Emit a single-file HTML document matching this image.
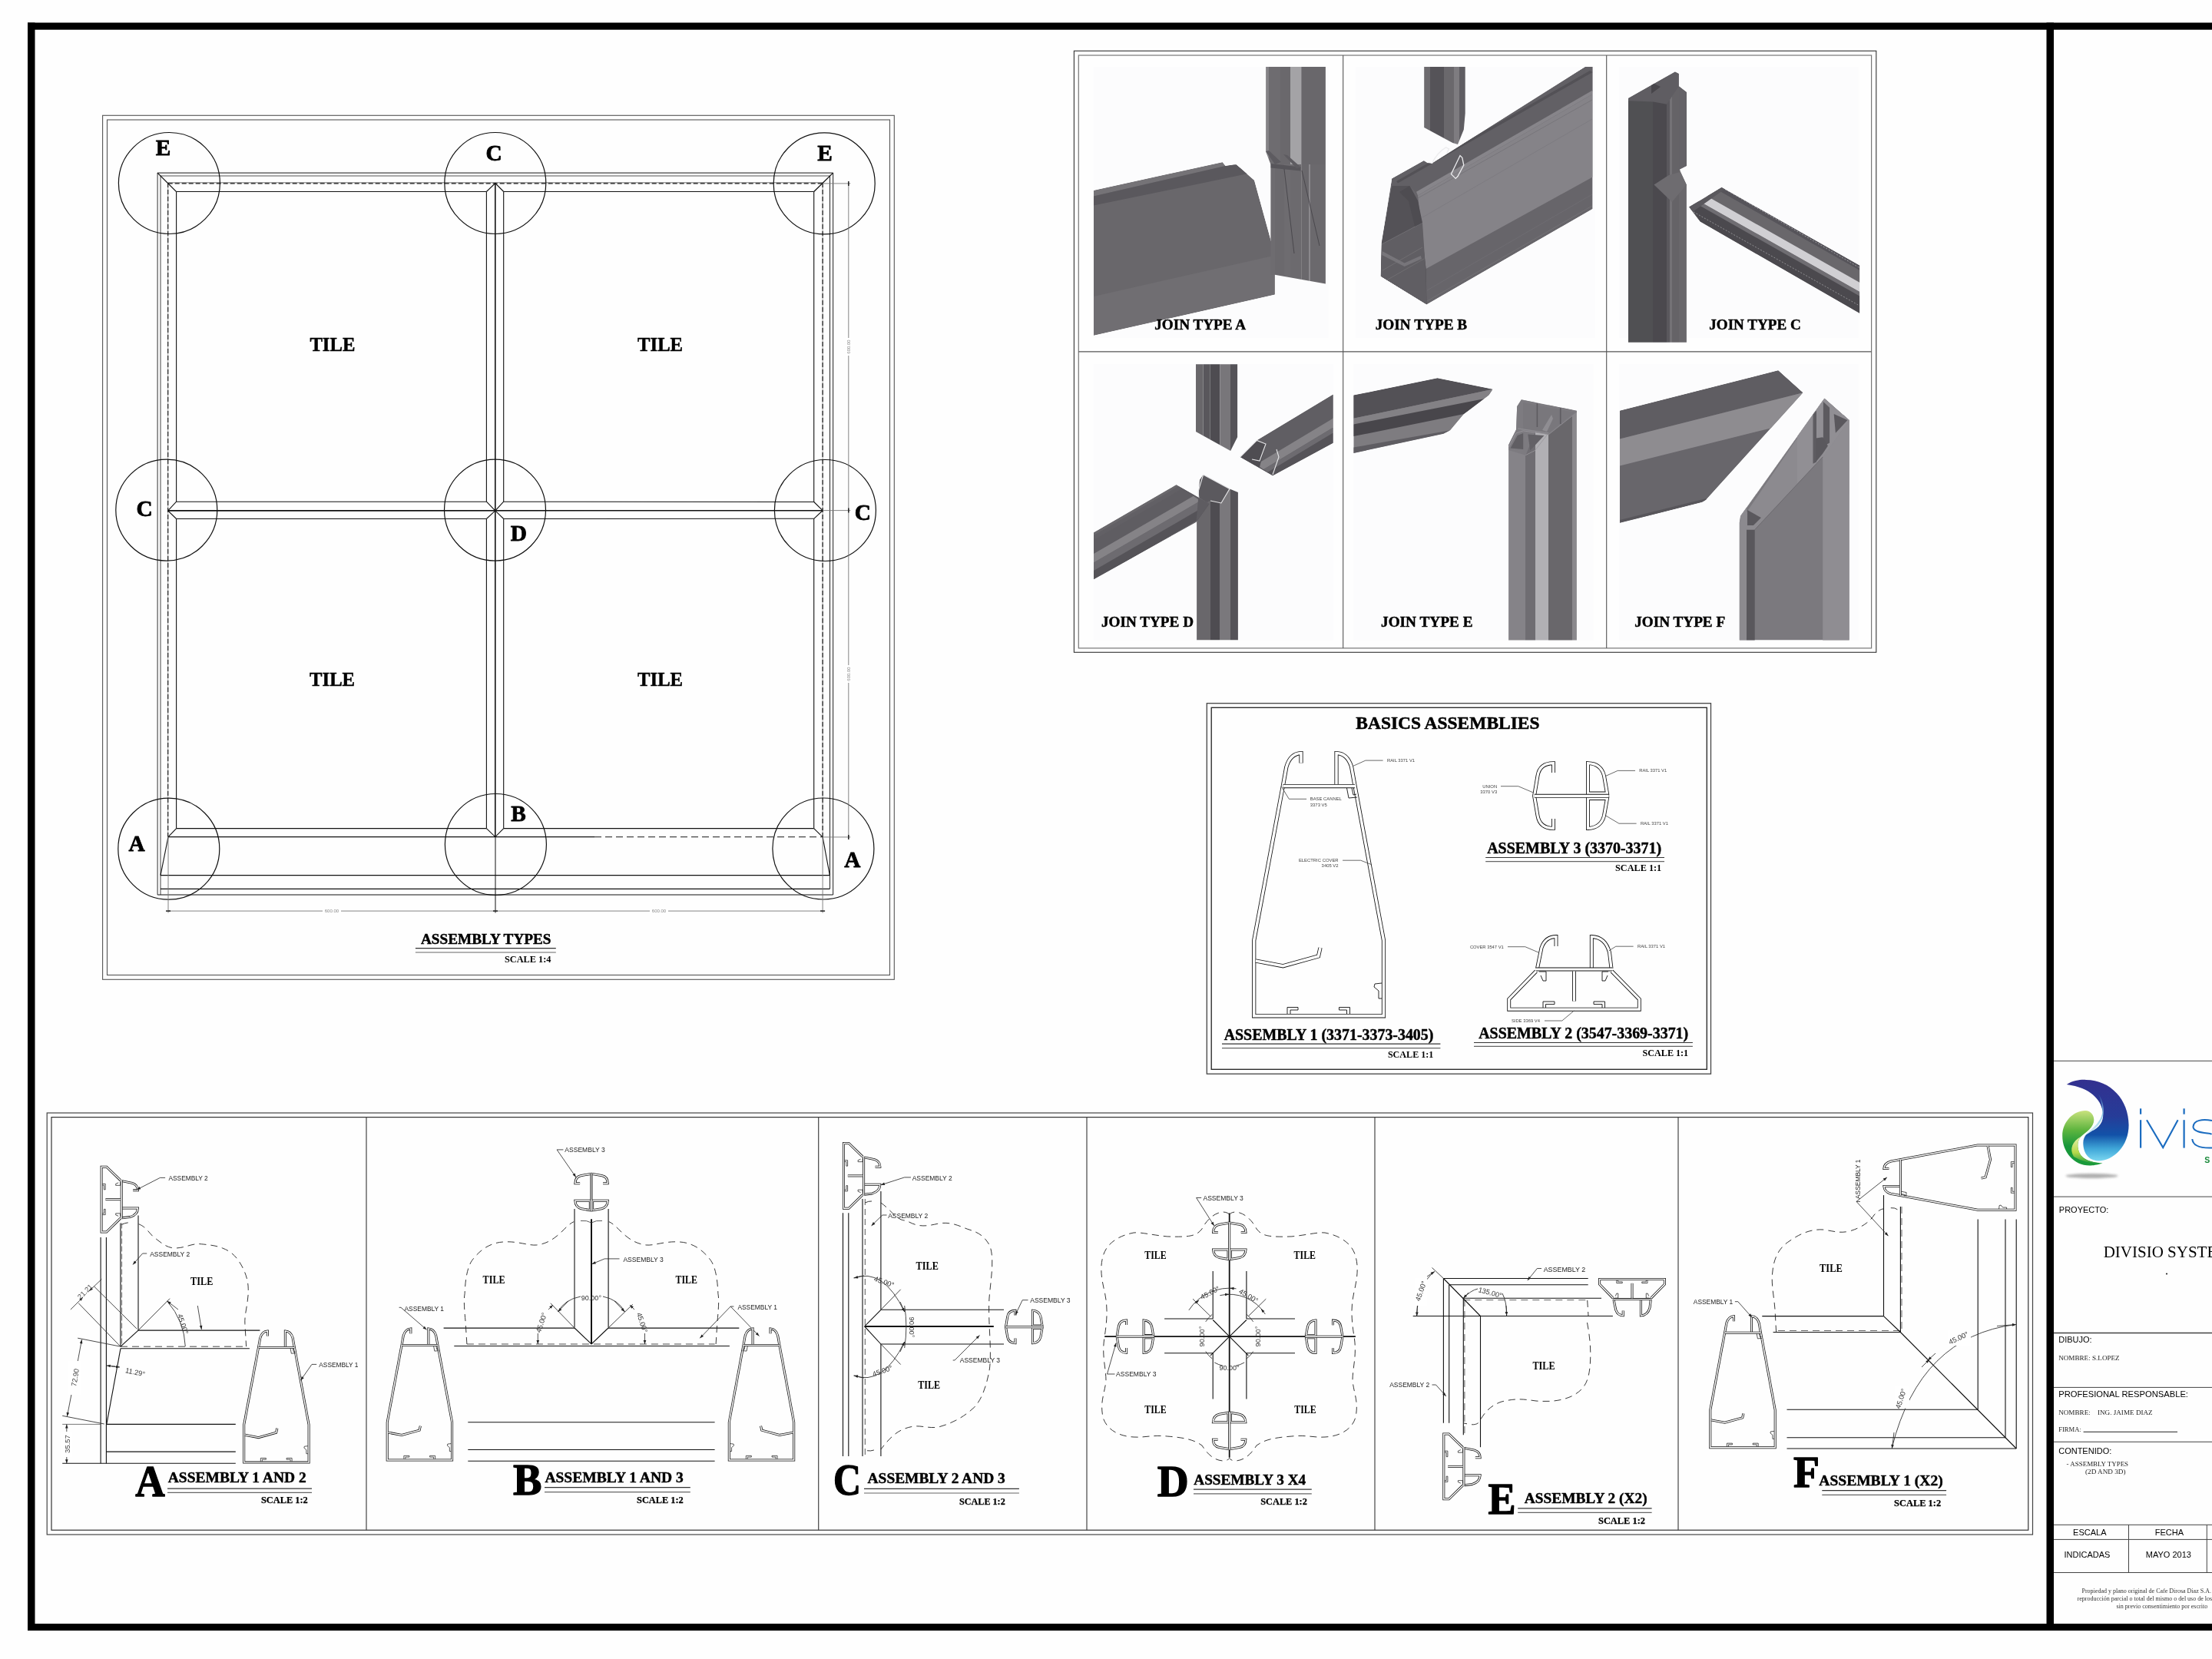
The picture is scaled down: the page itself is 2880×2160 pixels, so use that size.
<!DOCTYPE html>
<html><head><meta charset="utf-8"><title>Divisio System - Assembly Types</title>
<style>html,body{margin:0;padding:0;background:#fff;width:2880px;height:2160px;overflow:hidden}
svg{display:block;will-change:transform}</style></head>
<body><svg width="2880" height="2160" viewBox="0 0 2880 2160" shape-rendering="geometricPrecision">
<defs><linearGradient id="gBlue" x1="0" y1="0" x2="0" y2="1">
<stop offset="0" stop-color="#33308f"/><stop offset="0.45" stop-color="#263c98"/><stop offset="0.68" stop-color="#1252a8"/><stop offset="0.85" stop-color="#3fa6d8"/><stop offset="1" stop-color="#7ad6f0"/></linearGradient>
<linearGradient id="gHi" x1="0" y1="0" x2="0" y2="1"><stop offset="0" stop-color="#2a4aa0"/><stop offset="0.5" stop-color="#8fcbe8"/><stop offset="1" stop-color="#dff3fa"/></linearGradient>
<linearGradient id="gGreen" x1="0" y1="0" x2="0" y2="1"><stop offset="0" stop-color="#c9e27e"/><stop offset="0.35" stop-color="#5fb53f"/><stop offset="0.65" stop-color="#17973a"/><stop offset="1" stop-color="#1a9a3a"/></linearGradient>
<linearGradient id="gLime" x1="0" y1="0" x2="0" y2="1"><stop offset="0" stop-color="#e6f0b0"/><stop offset="0.6" stop-color="#b6d94a"/><stop offset="1" stop-color="#2aa040"/></linearGradient>
<filter id="fBlur" x="-20%" y="-100%" width="140%" height="300%"><feGaussianBlur stdDeviation="1.6"/></filter><clipPath id="cj1"><polygon points="1423.9,248 1591.6,211.2 1595.5,215.9 1606.5,214.3 1609.6,214.3 1633.1,234.7 1653.5,309.1 1659.8,331.8 1659.8,383.5 1423.9,436.8"/></clipPath><clipPath id="cj2"><polygon points="1648.1,86.9 1725.9,86.9 1725.9,369.5 1659.9,357.7 1654.4,357.7 1654.4,213.9 1648.1,197.6"/></clipPath><clipPath id="cj3"><polygon points="1854.2,87.1 1907.7,87.1 1907.7,147.5 1905.8,168.7 1898,188 1891.3,186.1 1854.2,165.9"/></clipPath><clipPath id="cj4"><polygon points="1797.7,359.8 1798.7,316.3 1812.2,232.4 1853.7,209.3 1858.5,212.2 1864.3,213.1 2064,87.1 2073.6,87.1 2073.6,272 1857.5,396.4"/></clipPath><clipPath id="cj5"><polygon points="2120,128 2180.9,93.4 2185.8,96.1 2185.8,112.3 2195.9,120.1 2195.9,216 2187,220.5 2188,223.8 2195.9,240.6 2195.9,445.7 2120,445.7"/></clipPath><clipPath id="cj6"><polygon points="2199.2,269.6 2241.6,243.9 2421.1,345.4 2421.1,407.8 2213.7,288.5"/></clipPath><clipPath id="cj7"><polygon points="1557,474.2 1611.3,474.2 1611.3,568.8 1602.1,587.1 1557,561.9"/></clipPath><clipPath id="cj8"><polygon points="1566.6,618 1601,636.4 1611.9,641 1611.9,833.3 1558.1,833.3 1558.1,680 1562,625"/></clipPath><clipPath id="cj9"><polygon points="1424,693.6 1531.5,631.3 1574.6,655.8 1557.4,679.9 1424,754.3"/></clipPath><clipPath id="cj10"><polygon points="1614.7,595.1 1636.4,573.4 1735.6,513.8 1735.6,576.8 1657.1,619.2"/></clipPath><clipPath id="cj11"><polygon points="1762.3,514.6 1871.5,492.3 1943.6,506.8 1938.4,514.6 1906.1,539.1 1888.3,560.3 1879.3,564.8 1762.3,590"/></clipPath><clipPath id="cj12"><polygon points="1964.1,586 1964.1,579.3 1974.1,559.2 1975.2,529.1 1980.8,520.2 2052.9,534.7 2052.9,833.5 1964.1,833.5"/></clipPath><clipPath id="cj13"><polygon points="2108.9,534.7 2315.2,482.3 2347.5,511.3 2221.5,650.6 2216,654 2108.9,680.7"/></clipPath><clipPath id="cj14"><polygon points="2264.6,680.7 2266.1,671.8 2375.4,518.6 2407.8,546.9 2407.8,833.5 2264.6,833.5"/></clipPath></defs>
<rect x="0" y="0" width="2880" height="2160" fill="#fefefe"/>
<rect x="36" y="29.5" width="2844" height="9.2" fill="#000"/>
<rect x="36" y="2114" width="2844" height="9" fill="#000"/>
<rect x="36" y="29.5" width="9.5" height="2093.5" fill="#000"/>
<rect x="2664.5" y="29.5" width="9.5" height="2093.5" fill="#000"/>
<line x1="2674" y1="1381.3" x2="2880" y2="1381.3" stroke="#444" stroke-width="1"/>
<line x1="2674" y1="1558.1" x2="2880" y2="1558.1" stroke="#444" stroke-width="1"/>
<line x1="2674" y1="1735.5" x2="2880" y2="1735.5" stroke="#444" stroke-width="1.6"/>
<line x1="2674" y1="1806.4" x2="2880" y2="1806.4" stroke="#444" stroke-width="1"/>
<line x1="2674" y1="1877.3" x2="2880" y2="1877.3" stroke="#444" stroke-width="1"/>
<line x1="2674" y1="1985.3" x2="2880" y2="1985.3" stroke="#444" stroke-width="1"/>
<line x1="2674" y1="2004.4" x2="2880" y2="2004.4" stroke="#444" stroke-width="1"/>
<line x1="2674" y1="2047.5" x2="2880" y2="2047.5" stroke="#444" stroke-width="1"/>
<line x1="2771.5" y1="1985.3" x2="2771.5" y2="2047.5" stroke="#444" stroke-width="1"/>
<line x1="2873.3" y1="1985.3" x2="2873.3" y2="2047.5" stroke="#444" stroke-width="1"/>
<text x="2680.8" y="1578.7" font-family="'Liberation Sans', sans-serif" font-size="11" font-weight="normal" text-anchor="start" fill="#000">PROYECTO:</text>
<text x="2738.7" y="1636.7" font-family="'Liberation Serif', serif" font-size="21" font-weight="normal" text-anchor="start" fill="#000">DIVISIO SYSTEMS</text>
<circle cx="2821" cy="1658.5" r="1.1" fill="#222" stroke="none" stroke-width="0"/>
<text x="2680.2" y="1747.8" font-family="'Liberation Sans', sans-serif" font-size="11" font-weight="normal" text-anchor="start" fill="#000">DIBUJO:</text>
<text x="2680.2" y="1770.6" font-family="'Liberation Serif', serif" font-size="8.6" font-weight="normal" text-anchor="start" fill="#222" textLength="79.5" lengthAdjust="spacingAndGlyphs">NOMBRE: S.LOPEZ</text>
<text x="2680.2" y="1818.7" font-family="'Liberation Sans', sans-serif" font-size="11" font-weight="normal" text-anchor="start" fill="#000" textLength="168.8" lengthAdjust="spacingAndGlyphs">PROFESIONAL RESPONSABLE:</text>
<text x="2680.2" y="1841.9" font-family="'Liberation Serif', serif" font-size="8.6" font-weight="normal" text-anchor="start" fill="#222" textLength="122.5" lengthAdjust="spacingAndGlyphs">NOMBRE: &#160;&#160;&#160;ING. JAIME DIAZ</text>
<text x="2680.2" y="1863.8" font-family="'Liberation Serif', serif" font-size="8.6" font-weight="normal" text-anchor="start" fill="#222">FIRMA:</text>
<line x1="2712.6" y1="1864.3" x2="2835" y2="1864.3" stroke="#222" stroke-width="1"/>
<text x="2680.2" y="1892.5" font-family="'Liberation Sans', sans-serif" font-size="11" font-weight="normal" text-anchor="start" fill="#000">CONTENIDO:</text>
<text x="2690.6" y="1908.7" font-family="'Liberation Serif', serif" font-size="8" font-weight="normal" text-anchor="start" fill="#222" textLength="80.5" lengthAdjust="spacingAndGlyphs">- ASSEMBLY TYPES</text>
<text x="2715" y="1919.2" font-family="'Liberation Serif', serif" font-size="8" font-weight="normal" text-anchor="start" fill="#222" textLength="52.5" lengthAdjust="spacingAndGlyphs">(2D AND 3D)</text>
<text x="2720.8" y="1999" font-family="'Liberation Sans', sans-serif" font-size="11" font-weight="normal" text-anchor="middle" fill="#000">ESCALA</text>
<text x="2824.4" y="1999" font-family="'Liberation Sans', sans-serif" font-size="11" font-weight="normal" text-anchor="middle" fill="#000">FECHA</text>
<text x="2717.5" y="2027.7" font-family="'Liberation Sans', sans-serif" font-size="11" font-weight="normal" text-anchor="middle" fill="#000">INDICADAS</text>
<text x="2823.4" y="2027.7" font-family="'Liberation Sans', sans-serif" font-size="11" font-weight="normal" text-anchor="middle" fill="#000">MAYO 2013</text>
<text x="2710.5" y="2074.4" font-family="'Liberation Serif', serif" font-size="8" font-weight="normal" text-anchor="start" fill="#333">Propiedad y plano original de Cafe Dirosa Diaz S.A. Queda prohibida la</text>
<text x="2704.6" y="2084.2" font-family="'Liberation Serif', serif" font-size="8" font-weight="normal" text-anchor="start" fill="#333">reproducci&#243;n parcial o total del mismo  o del uso de los datos</text>
<text x="2755.5" y="2093.9" font-family="'Liberation Serif', serif" font-size="8" font-weight="normal" text-anchor="start" fill="#333">sin previo consentimiento por escrito</text>
<ellipse cx="2723.5" cy="1531" rx="34" ry="3" fill="#9a9a9a" filter="url(#fBlur)" opacity="0.8"/>
<path d="M2690.8,1412 C2700,1406 2710,1405.5 2716,1405.9 C2748,1406 2771.6,1432 2771.6,1464.7 C2771.6,1492 2752,1511.4 2731.9,1511.4 C2720,1511.4 2712.3,1502 2712.3,1488.1 C2712.3,1478 2720,1473 2726.3,1471.3 C2736,1466 2740,1456 2737.5,1446 C2735,1432 2722,1416 2690.8,1412 Z" fill="url(#gBlue)"/>
<path d="M2732,1424 C2742,1440 2742,1458 2726,1471 C2720,1475 2716,1477 2712,1480 C2720,1472 2737,1462 2737.5,1446 C2737,1438 2735,1430 2732,1424 Z" fill="url(#gHi)"/>
<path d="M2685.2,1478.8 C2685.2,1460 2700,1446 2715.1,1446 C2722,1446 2726.3,1452 2726.3,1458 C2726.3,1468 2716,1474 2709.5,1479.7 C2703,1486 2704,1500 2712,1507 C2720,1513 2730,1514 2737.5,1514.3 C2730,1517 2725,1517.5 2720.7,1517.5 C2700,1517.5 2685.2,1500 2685.2,1478.8 Z" fill="url(#gGreen)"/>
<path d="M2709.5,1479.7 C2703,1486 2704,1500 2712,1507 C2718,1512 2728,1514 2737.5,1514.3 C2725,1515 2712,1513 2700,1506 C2694,1496 2698,1486 2709.5,1479.7 Z" fill="url(#gLime)"/>
<rect x="2786" y="1443.3" width="2.2" height="7.4" fill="#1b6cc0"/>
<rect x="2786" y="1458.2" width="2.2" height="36.4" fill="#1b6cc0"/>
<polyline points="2795,1458.2 2816.2,1494 2835.6,1458.2" fill="none" stroke="#1b6cc0" stroke-width="2.1"/>
<rect x="2842.5" y="1443.3" width="2.2" height="7.4" fill="#1b6cc0"/>
<rect x="2842.5" y="1458.2" width="2.2" height="36.4" fill="#1b6cc0"/>
<path d="M2880,1459 C2868,1457 2856,1458 2855.5,1467 C2855,1476 2880,1475 2880,1477 M2854.3,1483 C2855,1492 2866,1495 2880,1494.5" fill="none" stroke="#1b6cc0" stroke-width="2"/>
<text x="2870.2" y="1514.3" font-family="'Liberation Sans', sans-serif" font-size="10.5" font-weight="bold" text-anchor="start" fill="#1a8a3a">S</text>
<rect x="133.6" y="150.3" width="1030.7" height="1125" fill="none" stroke="#555" stroke-width="1.1"/>
<rect x="139.5" y="156" width="1019" height="1113.5" fill="none" stroke="#555" stroke-width="1.1"/>
<line x1="205.1" y1="225.1" x2="205.1" y2="1165" stroke="#444" stroke-width="1.1"/>
<line x1="209" y1="229" x2="209" y2="1165" stroke="#555" stroke-width="1.1"/>
<line x1="218.7" y1="238" x2="218.7" y2="1089.5" stroke="#888" stroke-width="0.8"/>
<line x1="218.7" y1="238" x2="218.7" y2="1089.5" stroke="#111" stroke-width="1.1" stroke-dasharray="6,3"/>
<line x1="229.6" y1="249.6" x2="229.6" y2="653.2" stroke="#111" stroke-width="1.1"/>
<line x1="229.6" y1="675.5" x2="229.6" y2="1078.6" stroke="#111" stroke-width="1.1"/>
<line x1="205.1" y1="225.1" x2="1084.6" y2="225.1" stroke="#444" stroke-width="1.1"/>
<line x1="209" y1="229" x2="1080.5" y2="229" stroke="#555" stroke-width="1.1"/>
<line x1="218.7" y1="237.8" x2="1071.1" y2="237.8" stroke="#666" stroke-width="0.9"/>
<line x1="218.7" y1="238.9" x2="1071.1" y2="238.9" stroke="#111" stroke-width="1.1" stroke-dasharray="6,3"/>
<line x1="229.6" y1="249.5" x2="633.4" y2="249.5" stroke="#111" stroke-width="1.1"/>
<line x1="655.7" y1="249.5" x2="1059.7" y2="249.5" stroke="#111" stroke-width="1.1"/>
<line x1="1084.6" y1="225.1" x2="1084.6" y2="1165" stroke="#333" stroke-width="1.1"/>
<line x1="1080.5" y1="229" x2="1080.5" y2="1157.4" stroke="#333" stroke-width="1.1"/>
<line x1="1071.1" y1="238" x2="1071.1" y2="1089.9" stroke="#888" stroke-width="0.8"/>
<line x1="1071.1" y1="238" x2="1071.1" y2="1089.9" stroke="#111" stroke-width="1.1" stroke-dasharray="6,3"/>
<line x1="1059.7" y1="249.5" x2="1059.7" y2="653.7" stroke="#111" stroke-width="1.1"/>
<line x1="1059.7" y1="675.2" x2="1059.7" y2="1078.6" stroke="#111" stroke-width="1.1"/>
<line x1="229.6" y1="1078.6" x2="633.4" y2="1078.6" stroke="#111" stroke-width="1.1"/>
<line x1="655.7" y1="1078.6" x2="1059.7" y2="1078.6" stroke="#111" stroke-width="1.1"/>
<line x1="219" y1="1089.6" x2="774" y2="1089.6" stroke="#111" stroke-width="1.1"/>
<line x1="774" y1="1089.6" x2="1071.1" y2="1089.6" stroke="#444" stroke-width="1.1" stroke-dasharray="9,5"/>
<line x1="219" y1="1089.6" x2="209" y2="1139.6" stroke="#111" stroke-width="1.1"/>
<line x1="1071.1" y1="1089.9" x2="1080.3" y2="1139.4" stroke="#111" stroke-width="1.1"/>
<line x1="209" y1="1139.6" x2="1080.3" y2="1139.6" stroke="#111" stroke-width="1.1"/>
<line x1="209" y1="1157.4" x2="1080.3" y2="1157.4" stroke="#111" stroke-width="1.1"/>
<line x1="205.1" y1="1165" x2="1084.6" y2="1165" stroke="#111" stroke-width="1.1"/>
<line x1="205.1" y1="225.1" x2="229.6" y2="249.6" stroke="#111" stroke-width="1.3"/>
<line x1="1084.6" y1="225.1" x2="1059.7" y2="249.5" stroke="#111" stroke-width="1.3"/>
<polyline points="229.6,1078.6 219,1089.6" fill="none" stroke="#111" stroke-width="1.1"/>
<polyline points="1059.7,1078.6 1071.1,1089.9" fill="none" stroke="#111" stroke-width="1.1"/>
<line x1="633.4" y1="249.5" x2="633.4" y2="653.2" stroke="#111" stroke-width="1.1"/>
<line x1="633.4" y1="675.5" x2="633.4" y2="1078.6" stroke="#111" stroke-width="1.1"/>
<line x1="655.7" y1="249.5" x2="655.7" y2="653.2" stroke="#111" stroke-width="1.1"/>
<line x1="655.7" y1="675.5" x2="655.7" y2="1078.6" stroke="#111" stroke-width="1.1"/>
<line x1="644.8" y1="238" x2="644.8" y2="1089.6" stroke="#111" stroke-width="1.6"/>
<polyline points="633.4,249.5 644.8,238.5 655.7,249.5" fill="none" stroke="#111" stroke-width="1.1"/>
<polyline points="633.4,1078.6 644.8,1089.6 655.7,1078.6" fill="none" stroke="#111" stroke-width="1.1"/>
<polyline points="633.4,653.2 644.8,664.9 655.7,653.2" fill="none" stroke="#111" stroke-width="1.1"/>
<polyline points="633.4,675.5 644.8,664.9 655.7,675.5" fill="none" stroke="#111" stroke-width="1.1"/>
<line x1="229.6" y1="653.2" x2="633.4" y2="653.2" stroke="#111" stroke-width="1.1"/>
<line x1="655.7" y1="653.2" x2="1059.7" y2="653.5" stroke="#111" stroke-width="1.1"/>
<line x1="229.6" y1="675.5" x2="633.4" y2="675.5" stroke="#111" stroke-width="1.1"/>
<line x1="655.7" y1="675.5" x2="1059.7" y2="675.3" stroke="#111" stroke-width="1.1"/>
<line x1="218.7" y1="664.9" x2="1071.1" y2="664.7" stroke="#111" stroke-width="1.6"/>
<polyline points="229.6,653.2 218.7,664.9 229.6,675.5" fill="none" stroke="#111" stroke-width="1.1"/>
<polyline points="1059.7,653.5 1071.1,664.7 1059.7,675.3" fill="none" stroke="#111" stroke-width="1.1"/>
<circle cx="220.4" cy="238.5" r="66" fill="none" stroke="#111" stroke-width="1.2"/>
<circle cx="644.8" cy="238.5" r="66" fill="none" stroke="#111" stroke-width="1.2"/>
<circle cx="1073.2" cy="238.9" r="66" fill="none" stroke="#111" stroke-width="1.2"/>
<circle cx="216.8" cy="664.1" r="66" fill="none" stroke="#111" stroke-width="1.2"/>
<circle cx="644.5" cy="664.1" r="66" fill="none" stroke="#111" stroke-width="1.2"/>
<circle cx="1074.4" cy="664.5" r="66" fill="none" stroke="#111" stroke-width="1.2"/>
<circle cx="219.8" cy="1105.2" r="66" fill="none" stroke="#111" stroke-width="1.2"/>
<circle cx="645.4" cy="1099.5" r="66" fill="none" stroke="#111" stroke-width="1.2"/>
<circle cx="1071.9" cy="1105" r="66" fill="none" stroke="#111" stroke-width="1.2"/>
<text x="202.7" y="201.9" font-family="'Liberation Serif', serif" font-size="29.3" font-weight="bold" text-anchor="start" fill="#000" stroke="#000" stroke-width="0.8" stroke-linejoin="round">E</text>
<text x="632.6" y="208.7" font-family="'Liberation Serif', serif" font-size="29.3" font-weight="bold" text-anchor="start" fill="#000" stroke="#000" stroke-width="0.8" stroke-linejoin="round">C</text>
<text x="1064.3" y="209" font-family="'Liberation Serif', serif" font-size="29.3" font-weight="bold" text-anchor="start" fill="#000" stroke="#000" stroke-width="0.8" stroke-linejoin="round">E</text>
<text x="177.4" y="671.7" font-family="'Liberation Serif', serif" font-size="29.3" font-weight="bold" text-anchor="start" fill="#000" stroke="#000" stroke-width="0.8" stroke-linejoin="round">C</text>
<text x="664.8" y="704.2" font-family="'Liberation Serif', serif" font-size="29.3" font-weight="bold" text-anchor="start" fill="#000" stroke="#000" stroke-width="0.8" stroke-linejoin="round">D</text>
<text x="1112.7" y="676.6" font-family="'Liberation Serif', serif" font-size="29.3" font-weight="bold" text-anchor="start" fill="#000" stroke="#000" stroke-width="0.8" stroke-linejoin="round">C</text>
<text x="167.5" y="1108" font-family="'Liberation Serif', serif" font-size="29.3" font-weight="bold" text-anchor="start" fill="#000" stroke="#000" stroke-width="0.8" stroke-linejoin="round">A</text>
<text x="665.2" y="1069.2" font-family="'Liberation Serif', serif" font-size="29.3" font-weight="bold" text-anchor="start" fill="#000" stroke="#000" stroke-width="0.8" stroke-linejoin="round">B</text>
<text x="1099.2" y="1128.6" font-family="'Liberation Serif', serif" font-size="29.3" font-weight="bold" text-anchor="start" fill="#000" stroke="#000" stroke-width="0.8" stroke-linejoin="round">A</text>
<text x="403.4" y="456.8" font-family="'Liberation Serif', serif" font-size="25.8" font-weight="bold" text-anchor="start" fill="#000" stroke="#000" stroke-width="0.5" stroke-linejoin="round" textLength="59" lengthAdjust="spacingAndGlyphs">TILE</text>
<text x="830.1" y="457.1" font-family="'Liberation Serif', serif" font-size="25.8" font-weight="bold" text-anchor="start" fill="#000" stroke="#000" stroke-width="0.5" stroke-linejoin="round" textLength="59" lengthAdjust="spacingAndGlyphs">TILE</text>
<text x="403.1" y="892.7" font-family="'Liberation Serif', serif" font-size="25.8" font-weight="bold" text-anchor="start" fill="#000" stroke="#000" stroke-width="0.5" stroke-linejoin="round" textLength="59" lengthAdjust="spacingAndGlyphs">TILE</text>
<text x="830.1" y="892.7" font-family="'Liberation Serif', serif" font-size="25.8" font-weight="bold" text-anchor="start" fill="#000" stroke="#000" stroke-width="0.5" stroke-linejoin="round" textLength="59" lengthAdjust="spacingAndGlyphs">TILE</text>
<line x1="1104.8" y1="238.9" x2="1104.8" y2="1089.9" stroke="#777" stroke-width="0.9"/>
<line x1="1071.1" y1="238.9" x2="1107.3" y2="238.9" stroke="#777" stroke-width="0.9"/>
<line x1="1071.1" y1="664.6" x2="1107.3" y2="664.6" stroke="#777" stroke-width="0.9"/>
<line x1="1071.1" y1="1089.9" x2="1107.3" y2="1089.9" stroke="#777" stroke-width="0.9"/>
<line x1="1104.8" y1="235.9" x2="1104.8" y2="241.9" stroke="#222" stroke-width="1.5"/>
<line x1="1104.8" y1="661.6" x2="1104.8" y2="667.6" stroke="#222" stroke-width="1.5"/>
<line x1="1104.8" y1="1086.9" x2="1104.8" y2="1092.9" stroke="#222" stroke-width="1.5"/>
<rect x="1101.5" y="440" width="6.5" height="23" fill="#fff"/>
<text x="1106.6" y="451.5" font-family="'Liberation Sans', sans-serif" font-size="6" font-weight="normal" text-anchor="middle" fill="#888" transform="rotate(-90 1106.6 451.5)">600.00</text>
<rect x="1101.5" y="866" width="6.5" height="23" fill="#fff"/>
<text x="1106.6" y="877.5" font-family="'Liberation Sans', sans-serif" font-size="6" font-weight="normal" text-anchor="middle" fill="#888" transform="rotate(-90 1106.6 877.5)">600.00</text>
<line x1="219" y1="1089.6" x2="219" y2="1188.5" stroke="#777" stroke-width="0.9"/>
<line x1="645" y1="1089.6" x2="645" y2="1188.5" stroke="#111" stroke-width="1"/>
<line x1="1071.1" y1="1089.9" x2="1071.1" y2="1188.6" stroke="#777" stroke-width="0.9"/>
<line x1="219" y1="1186.1" x2="1071.1" y2="1186.1" stroke="#777" stroke-width="0.9"/>
<line x1="216" y1="1186.1" x2="222" y2="1186.1" stroke="#222" stroke-width="1.5"/>
<line x1="642" y1="1186.1" x2="648" y2="1186.1" stroke="#222" stroke-width="1.5"/>
<line x1="1068.1" y1="1186.1" x2="1074.1" y2="1186.1" stroke="#222" stroke-width="1.5"/>
<rect x="420" y="1183" width="24" height="6" fill="#fff"/>
<text x="431.9" y="1188.2" font-family="'Liberation Sans', sans-serif" font-size="6" font-weight="normal" text-anchor="middle" fill="#888">600.00</text>
<rect x="846" y="1183" width="24" height="6" fill="#fff"/>
<text x="858" y="1188.2" font-family="'Liberation Sans', sans-serif" font-size="6" font-weight="normal" text-anchor="middle" fill="#888">600.00</text>
<text x="548" y="1229.2" font-family="'Liberation Serif', serif" font-size="18.5" font-weight="bold" text-anchor="start" fill="#000" stroke="#000" stroke-width="0.45" stroke-linejoin="round" textLength="169.5" lengthAdjust="spacingAndGlyphs">ASSEMBLY TYPES</text>
<line x1="540.9" y1="1234.6" x2="723.8" y2="1234.6" stroke="#333" stroke-width="1.2"/>
<line x1="540.9" y1="1240" x2="723.8" y2="1240" stroke="#666" stroke-width="1.2"/>
<text x="657" y="1252.8" font-family="'Liberation Serif', serif" font-size="13" font-weight="bold" text-anchor="start" fill="#000" textLength="60.5" lengthAdjust="spacingAndGlyphs">SCALE 1:4</text>
<rect x="1398.4" y="66.3" width="1044.4" height="783" fill="none" stroke="#333" stroke-width="1.1"/>
<rect x="1404.3" y="72" width="1032.3" height="771.9" fill="none" stroke="#777" stroke-width="1.2"/>
<line x1="1748.7" y1="72" x2="1748.7" y2="843.9" stroke="#555" stroke-width="1.1"/>
<line x1="2091.7" y1="72" x2="2091.7" y2="843.9" stroke="#555" stroke-width="1.1"/>
<line x1="1404.2" y1="457.9" x2="2436.6" y2="457.9" stroke="#555" stroke-width="1.1"/>
<rect x="1424" y="87" width="306" height="353" fill="#fcfcfd"/>
<rect x="1765" y="87" width="312" height="353" fill="#fcfcfd"/>
<rect x="2108" y="87" width="312" height="353" fill="#fcfcfd"/>
<rect x="1424" y="474" width="312" height="360" fill="#fcfcfd"/>
<rect x="1762" y="474" width="313" height="360" fill="#fcfcfd"/>
<rect x="2108" y="474" width="312" height="360" fill="#fcfcfd"/>
<g clip-path="url(#cj1)">
<polygon points="1423.9,248 1591.6,211.2 1595.5,215.9 1606.5,214.3 1609.6,214.3 1633.1,234.7 1653.5,309.1 1659.8,331.8 1659.8,383.5 1423.9,436.8" fill="#69676b"/>
<polygon points="1423.9,248 1591.6,211.2 1595.5,215.9 1423.9,255.5" fill="#757377"/>
<polygon points="1423.9,255.5 1595.5,215.9 1609.6,214.3 1625,226 1423.9,267.6" fill="#5a585d"/>
<polygon points="1423.9,385.9 1659.8,332.6 1659.8,383.5 1423.9,436.8" fill="#706e72"/>
</g>
<g clip-path="url(#cj2)">
<rect x="1648" y="86" width="4" height="128" fill="#858387"/>
<rect x="1652" y="86" width="15" height="128" fill="#6e6c70"/>
<rect x="1667" y="86" width="13" height="128" fill="#6a686c"/>
<rect x="1680" y="86" width="14.2" height="128" fill="#a4a3a6"/>
<rect x="1694.2" y="86" width="31.8" height="128" fill="#69676b"/>
<rect x="1648" y="214" width="12" height="156" fill="#6e6c70"/>
<rect x="1660" y="214" width="12" height="156" fill="#6b696d"/>
<rect x="1672" y="214" width="8" height="156" fill="#6e6c70"/>
<rect x="1680" y="214" width="14.2" height="156" fill="#6c6a6e"/>
<rect x="1694.2" y="214" width="9.8" height="156" fill="#6a686c"/>
<rect x="1704" y="214" width="2" height="156" fill="#8a888c"/>
<rect x="1706" y="214" width="20" height="156" fill="#6b696d"/>
<polygon points="1654.4,213 1693.3,217.5 1693.3,222.5 1654.4,218.5" fill="#57555a"/>
<polyline points="1672,220 1685,330" fill="none" stroke="#4a484d" stroke-width="1"/>
<polyline points="1695,222 1718,320" fill="none" stroke="#4a484d" stroke-width="1"/>
<polygon points="1648,197 1652,196 1668,211 1660,214" fill="#5d5b60"/>
<polygon points="1671,201 1676,202 1694,218 1688,219" fill="#5d5b60"/>
</g>
<text x="1503.2" y="428.8" font-family="'Liberation Serif', serif" font-size="19.4" font-weight="bold" text-anchor="start" fill="#000" stroke="#000" stroke-width="0.45" stroke-linejoin="round" textLength="119" lengthAdjust="spacingAndGlyphs">JOIN TYPE A</text>
<g clip-path="url(#cj3)">
<rect x="1854" y="86" width="8" height="104" fill="#6d6b6f"/>
<rect x="1862" y="86" width="18" height="104" fill="#555358"/>
<rect x="1880" y="86" width="13" height="104" fill="#6a686c"/>
<rect x="1893" y="86" width="7" height="104" fill="#7e7c80"/>
<rect x="1900" y="86" width="8" height="104" fill="#5f5d62"/>
</g>
<g clip-path="url(#cj4)">
<polygon points="1797.7,359.8 1798.7,316.3 1812.2,232.4 1853.7,209.3 1858.5,212.2 1864.3,213.1 2064,87.1 2073.6,87.1 2073.6,272 1857.5,396.4" fill="#67656a"/>
<polygon points="1812.2,232.4 1853.7,209.3 2064,87.1 2073.6,87.1 2073.6,118.6 1846,253.6 1835.3,242.1 1812.2,242" fill="#626065"/>
<polygon points="1844,249.8 2073.6,117.6 2073.6,122.5 1846,254.5" fill="#87858a"/>
<polygon points="1818,236 2070,92 2073.6,94 1820,238.5" fill="#535156"/>
<polygon points="1846,254.5 2073.6,122.5 2073.6,230.5 1856.6,350.1" fill="#858388"/>
<polygon points="1812.2,242 1835.3,242.1 1846,261.4 1856.6,350 1857.5,396.4 1797.7,359.8 1798.7,316.3" fill="#545257"/>
<polygon points="1799,318 1852,290 1856,350 1857.5,396.4 1797.7,359.8" fill="#605e63"/>
<polygon points="1799.6,327 1828.6,342.5 1849.8,333 1851,337 1828.6,347 1799.2,332" fill="#77757a"/>
<polyline points="1799,318 1852,290" fill="none" stroke="#7a787c" stroke-width="0.7"/>
<polyline points="1800,352 1852,322" fill="none" stroke="#7a787c" stroke-width="0.6"/>
<polyline points="1805,365 1854,337" fill="none" stroke="#7a787c" stroke-width="0.6"/>
<polygon points="1835.3,242.1 1846,261.4 1852,290 1842,295 1834,262 1822,250" fill="#4e4c51"/>
<polyline points="1858,392 2073,268" fill="none" stroke="#7a787c" stroke-width="0.6"/>
<polyline points="1846,258 2073,130" fill="none" stroke="#6f6d72" stroke-width="0.6"/>
<polyline points="1852,283 2073,155" fill="none" stroke="#77757a" stroke-width="0.5"/>
<polyline points="1858,378 2073,253" fill="none" stroke="#77757a" stroke-width="0.5"/>
</g>
<path d="M1864.3,213.1 C1868,205 1874,197 1882.6,191.9 L1886.5,193.8 L1883.6,199.6" fill="none" stroke="#ececee" stroke-width="1.3"/>
<path d="M1889.4,226.6 L1895.2,232.4 L1898,229.5 L1905.8,215 L1903.8,205.4 L1901,202.5 Z" fill="none" stroke="#ececee" stroke-width="1.3"/>
<text x="1790.7" y="428.8" font-family="'Liberation Serif', serif" font-size="19.4" font-weight="bold" text-anchor="start" fill="#000" stroke="#000" stroke-width="0.45" stroke-linejoin="round" textLength="119.5" lengthAdjust="spacingAndGlyphs">JOIN TYPE B</text>
<g clip-path="url(#cj5)">
<rect x="2120" y="90" width="32" height="356" fill="#505053"/>
<rect x="2152" y="90" width="18" height="356" fill="#4b494e"/>
<rect x="2170" y="90" width="4" height="356" fill="#5a585d"/>
<rect x="2174" y="90" width="3" height="356" fill="#747276"/>
<rect x="2177" y="90" width="9" height="356" fill="#656367"/>
<rect x="2186" y="90" width="10" height="356" fill="#69676b"/>
<polygon points="2120,128 2180.9,93.4 2185.8,96.1 2185.8,112.3 2170.2,135.8 2152.4,132.4 2120,131.3" fill="#5f5d62"/>
<polygon points="2153.5,240.6 2172.4,228.3 2188,223.8 2195.9,240.6 2176.9,262.9" fill="#6e6c70"/>
<polygon points="2186,112 2196,120 2196,216 2186,221" fill="#646267"/>
<polygon points="2150,107 2162,113 2150,122" fill="#48464b"/>
</g>
<g clip-path="url(#cj6)">
<polygon points="2199.2,269.6 2241.6,243.9 2421.1,345.4 2421.1,407.8 2213.7,288.5" fill="#69676b"/>
<polygon points="2150,192.1 2430,350.44 2430,357.04 2150,198.7" fill="#56545a"/>
<polygon points="2150,198.7 2430,357.04 2430,372.74 2150,214.4" fill="#69676b"/>
<polygon points="2150,214.4 2430,372.74 2430,385.04 2150,226.7" fill="#d0cfd3"/>
<polygon points="2150,226.7 2430,385.04 2430,390.44 2150,232.1" fill="#6f6d72"/>
<polygon points="2150,232.1 2430,390.44 2430,414.44 2150,256.1" fill="#4b494e"/>
<polygon points="2199.2,269.6 2241.6,243.9 2246,246 2205,275 2213.7,288.5" fill="#5a585d"/>
<polyline points="2246,246.5 2421,348.5" fill="none" stroke="#cfcfd2" stroke-width="0.6" stroke-dasharray="2,2"/>
<polyline points="2205,276 2421,398" fill="none" stroke="#bdbdc0" stroke-width="0.6" stroke-dasharray="2,2"/>
</g>
<text x="2225.3" y="428.8" font-family="'Liberation Serif', serif" font-size="19.4" font-weight="bold" text-anchor="start" fill="#000" stroke="#000" stroke-width="0.45" stroke-linejoin="round" textLength="119.5" lengthAdjust="spacingAndGlyphs">JOIN TYPE C</text>
<g clip-path="url(#cj7)">
<rect x="1557" y="474" width="9.6" height="116" fill="#69676b"/>
<rect x="1566.6" y="474" width="9.1" height="116" fill="#59575c"/>
<rect x="1575.7" y="474" width="12.6" height="116" fill="#4e4c51"/>
<rect x="1588.3" y="474" width="13.7" height="116" fill="#78767a"/>
<rect x="1602" y="474" width="9.3" height="116" fill="#555358"/>
</g>
<g clip-path="url(#cj8)">
<rect x="1558" y="615" width="18" height="219" fill="#69676b"/>
<rect x="1576" y="615" width="12" height="219" fill="#4e4c51"/>
<rect x="1588" y="615" width="14" height="219" fill="#7a787c"/>
<rect x="1602" y="615" width="10" height="219" fill="#555358"/>
<polygon points="1562,625 1566.6,618 1601,636.4 1590,655 1575,652 1560,660" fill="#5b595e"/>
</g>
<polyline points="1566.6,618 1601,636.4 1590,655 1576,652" fill="none" stroke="#e6e6e8" stroke-width="1.1"/>
<polyline points="1566.6,618 1560,640 1562,660" fill="none" stroke="#e6e6e8" stroke-width="1.1"/>
<g clip-path="url(#cj9)">
<polygon points="1424,693.6 1531.5,631.3 1574.6,655.8 1557.4,679.9 1424,754.3" fill="#69676b"/>
<polygon points="1410,700.71 1580,602.2 1580,606.6 1410,705.11" fill="#6a686c"/>
<polygon points="1410,705.11 1580,606.6 1580,612.4 1410,710.91" fill="#626065"/>
<polygon points="1410,710.91 1580,612.4 1580,630.7 1410,729.21" fill="#5f5d62"/>
<polygon points="1410,729.21 1580,630.7 1580,642.2 1410,740.71" fill="#858387"/>
<polygon points="1410,740.71 1580,642.2 1580,652.7 1410,751.21" fill="#6d6b70"/>
<polygon points="1410,751.21 1580,652.7 1580,665.2 1410,763.71" fill="#555358"/>
<polygon points="1531.5,631.3 1574.6,655.8 1557.4,679.9 1560,650" fill="#5e5c61"/>
</g>
<g clip-path="url(#cj10)">
<polygon points="1614.7,595.1 1636.4,573.4 1735.6,513.8 1735.6,576.8 1657.1,619.2" fill="#5f5d62"/>
<polygon points="1600,593.27 1740,509.16 1740,542.16 1600,626.27" fill="#605e63"/>
<polygon points="1600,626.27 1740,542.16 1740,554.16 1600,638.27" fill="#858387"/>
<polygon points="1600,638.27 1740,554.16 1740,561.16 1600,645.27" fill="#6d6b70"/>
<polygon points="1600,645.27 1740,561.16 1740,575.16 1600,659.27" fill="#555358"/>
<polygon points="1614.7,595.1 1636.4,573.4 1648,578 1640,608 1657.1,619.2" fill="#4f4d52"/>
</g>
<polyline points="1614.7,595.1 1636.4,573.4 1648,578 1640,600 1630,598" fill="none" stroke="#e6e6e8" stroke-width="1.1"/>
<polyline points="1657,618 1665,595 1662,585" fill="none" stroke="#e6e6e8" stroke-width="1.1"/>
<text x="1434" y="816.3" font-family="'Liberation Serif', serif" font-size="19.4" font-weight="bold" text-anchor="start" fill="#000" stroke="#000" stroke-width="0.45" stroke-linejoin="round" textLength="120" lengthAdjust="spacingAndGlyphs">JOIN TYPE D</text>
<g clip-path="url(#cj11)">
<polygon points="1762.3,514.6 1871.5,492.3 1943.6,506.8 1938.4,514.6 1906.1,539.1 1888.3,560.3 1879.3,564.8 1762.3,590" fill="#7e7c80"/>
<polygon points="1762.3,514.6 1871.5,492.3 1943.6,506.8 1762.3,544.7" fill="#535156"/>
<polygon points="1762.3,544.7 1943.6,506.8 1938.4,518 1762.3,552.5" fill="#838185"/>
<polygon points="1762.3,552.5 1938.4,518 1906.1,539.1 1762.3,568.1" fill="#48464b"/>
<polygon points="1762.3,582.6 1888.3,560.3 1879.3,566 1762.3,591" fill="#5f5d62"/>
</g>
<g clip-path="url(#cj12)">
<rect x="1964" y="515" width="22" height="319" fill="#858388"/>
<rect x="1986" y="515" width="13" height="319" fill="#6f6d72"/>
<rect x="1999" y="515" width="17" height="319" fill="#b1b0b4"/>
<rect x="2016" y="515" width="31" height="319" fill="#69676b"/>
<rect x="2047" y="515" width="6" height="319" fill="#8a888c"/>
<polygon points="1964.1,579.3 1975.2,529.1 1980.8,520.2 2052.9,534.7 2052.9,536.9 2016,565.9 1999,562.6 1986.4,592.7 1964.1,586" fill="#7d7b80"/>
<polygon points="1983,524 2050,537 2016.5,563.9 1983.2,559.4" fill="#79777c"/>
<polyline points="2001.4,525 2001.4,556" fill="none" stroke="#5e5c61" stroke-width="1.6"/>
<polyline points="2031.7,531 2031.7,552" fill="none" stroke="#5e5c61" stroke-width="1.6"/>
<polygon points="2008,560 2020,540 2022,545 2014,562" fill="#8f8d92"/>
<polyline points="1976,557.8 2016.5,563.9" fill="none" stroke="#8e8c91" stroke-width="1.2"/>
<polygon points="1975.7,566.9 1983.2,563.9 1983.2,585.1 1966.6,583.6" fill="#605e63"/>
<polygon points="1989.3,565.4 2010.5,566.9 1992.3,586.6" fill="#636166"/>
<polyline points="1964.5,582 1974.1,563.9 1983.2,560.9 2015,565.4 1998.4,586.6 1986.3,592.7" fill="none" stroke="#9a989d" stroke-width="0.8"/>
<polyline points="2016,565.9 2052.9,536.9" fill="none" stroke="#8c8a8f" stroke-width="1"/>
</g>
<text x="1798" y="816.3" font-family="'Liberation Serif', serif" font-size="19.4" font-weight="bold" text-anchor="start" fill="#000" stroke="#000" stroke-width="0.45" stroke-linejoin="round" textLength="119.5" lengthAdjust="spacingAndGlyphs">JOIN TYPE E</text>
<g clip-path="url(#cj13)">
<polygon points="2108.9,534.7 2315.2,482.3 2347.5,511.3 2221.5,650.6 2216,654 2108.9,680.7" fill="#68666b"/>
<polygon points="2108.9,534.7 2315.2,482.3 2347.5,511.3 2108.9,571.5" fill="#5f5d62"/>
<polygon points="2108.9,571.5 2347.5,511.3 2311.9,555.9 2108.9,606.5" fill="#8e8c90"/>
<polygon points="2108.9,677 2221.5,649 2221.5,652 2108.9,682" fill="#58565b"/>
</g>
<g clip-path="url(#cj14)">
<polygon points="2264.6,680.7 2266.1,671.8 2375.4,518.6 2407.8,546.9 2407.8,833.5 2264.6,833.5" fill="#7b797e"/>
<rect x="2373.2" y="540" width="34.6" height="294" fill="#8f8d92"/>
<rect x="2264.6" y="660" width="9.4" height="174" fill="#8c8a8f"/>
<rect x="2274" y="685" width="10.7" height="149" fill="#59575c"/>
<polygon points="2264.6,680.7 2375.4,518.6 2407.8,546.9 2373.2,594.9 2284.7,689.7 2274,689.7" fill="#8c8a8f"/>
<polygon points="2340,560 2375.4,518.6 2407.8,546.9 2373.2,594.9 2340,630" fill="#918f94"/>
<polygon points="2373.9,523.1 2382.1,530.7 2382.1,576.6 2373.9,581.5" fill="#5c5a5f"/>
<polygon points="2360.5,538 2365,534.7 2365,601.6 2360.5,603.8" fill="#5e5c61"/>
<polygon points="2364.3,570.4 2373.2,569.2 2379.9,580.4 2373.2,590.4 2364.3,601.6" fill="#5a585d"/>
<polygon points="2387.7,539.1 2405.5,546.9 2389.9,563.7" fill="#5a585d"/>
<polygon points="2275.1,664 2292.9,674.1 2282.9,684.1 2275,684" fill="#5a585d"/>
<polyline points="2284.7,689.7 2373.2,594.9" fill="none" stroke="#6c6a6f" stroke-width="1"/>
<polyline points="2266,672 2375.4,518.6" fill="none" stroke="#9a989d" stroke-width="0.8"/>
</g>
<text x="2128.2" y="816.3" font-family="'Liberation Serif', serif" font-size="19.4" font-weight="bold" text-anchor="start" fill="#000" stroke="#000" stroke-width="0.45" stroke-linejoin="round" textLength="118" lengthAdjust="spacingAndGlyphs">JOIN TYPE F</text>
<rect x="1571.3" y="915.7" width="656.2" height="482.5" fill="none" stroke="#444" stroke-width="1.3"/>
<rect x="1577.2" y="921.3" width="645.1" height="471" fill="none" stroke="#222" stroke-width="1.3"/>
<text x="1765.3" y="948.6" font-family="'Liberation Serif', serif" font-size="22.5" font-weight="bold" text-anchor="start" fill="#000" stroke="#000" stroke-width="0.5" stroke-linejoin="round" textLength="239.2" lengthAdjust="spacingAndGlyphs">BASICS ASSEMBLIES</text>
<path d="M 1694 993.5 L 1694 980.6 Q 1680 981 1674.8 998.7 L 1670.5 1022.6 L 1632.7 1224.5 L 1632.7 1322.8 L 1801.5 1322.8 L 1801.5 1224.5 L 1764 1023 L 1759.5 998 Q 1754 981 1740 980.6 L 1740 1021" fill="none" stroke="#111" stroke-width="5.2" stroke-linejoin="miter" stroke-miterlimit="3"/>
<path d="M 1694 993.5 L 1694 980.6 Q 1680 981 1674.8 998.7 L 1670.5 1022.6 L 1632.7 1224.5 L 1632.7 1322.8 L 1801.5 1322.8 L 1801.5 1224.5 L 1764 1023 L 1759.5 998 Q 1754 981 1740 980.6 L 1740 1021" fill="none" stroke="#fff" stroke-width="3.5" stroke-linejoin="miter" stroke-miterlimit="3"/>
<path d="M 1670.5 1023.6 L 1764 1023.6" fill="none" stroke="#111" stroke-width="5.2" stroke-linejoin="miter" stroke-miterlimit="3"/>
<path d="M 1670.5 1023.6 L 1764 1023.6" fill="none" stroke="#fff" stroke-width="3.5" stroke-linejoin="miter" stroke-miterlimit="3"/>
<path d="M 1634.9 1251 L 1670.5 1257.8 L 1716.5 1245 L 1719 1234" fill="none" stroke="#111" stroke-width="5.2" stroke-linejoin="miter" stroke-miterlimit="3"/>
<path d="M 1634.9 1251 L 1670.5 1257.8 L 1716.5 1245 L 1719 1234" fill="none" stroke="#fff" stroke-width="3.5" stroke-linejoin="miter" stroke-miterlimit="3"/>
<path d="M 1753.5 1026 L 1756 1039 L 1767 1038" fill="none" stroke="#111" stroke-width="0.9"/>
<path d="M 1760 1026 L 1762 1035 L 1766 1034" fill="none" stroke="#111" stroke-width="0.9"/>
<path d="M 1676 1320 L 1676 1311.5 L 1690 1311.5 L 1690 1315 L 1680 1315 L 1680 1320" fill="none" stroke="#111" stroke-width="0.9"/>
<path d="M 1757.5 1320 L 1757.5 1311.5 L 1743.5 1311.5 L 1743.5 1315 L 1753.5 1315 L 1753.5 1320" fill="none" stroke="#111" stroke-width="0.9"/>
<path d="M 1799 1280 L 1790 1281 L 1789 1285 L 1795 1290 L 1795 1300 L 1799 1300" fill="none" stroke="#111" stroke-width="0.9"/>
<path d="M 2022.5 1006 L 2022.5 993.7 C 2012 993.7 2004 998 2002 1010 L 1997.6 1036.2 L 2002 1062 C 2004 1074 2012 1078.4 2022.5 1078.4 L 2022.5 1066" fill="none" stroke="#111" stroke-width="4.9" stroke-linejoin="miter" stroke-miterlimit="3"/>
<path d="M 2022.5 1006 L 2022.5 993.7 C 2012 993.7 2004 998 2002 1010 L 1997.6 1036.2 L 2002 1062 C 2004 1074 2012 1078.4 2022.5 1078.4 L 2022.5 1066" fill="none" stroke="#fff" stroke-width="3.2" stroke-linejoin="miter" stroke-miterlimit="3"/>
<path d="M 2067.5 1033 L 2067.5 993.6 C 2080 994 2086 1000 2088.5 1010 L 2092.5 1033 Z" fill="none" stroke="#111" stroke-width="4.9" stroke-linejoin="miter" stroke-miterlimit="3"/>
<path d="M 2067.5 1033 L 2067.5 993.6 C 2080 994 2086 1000 2088.5 1010 L 2092.5 1033 Z" fill="none" stroke="#fff" stroke-width="3.2" stroke-linejoin="miter" stroke-miterlimit="3"/>
<path d="M 2067.5 1039.5 L 2067.5 1078.5 C 2080 1078 2086 1072 2088.5 1062 L 2092.5 1039.5 Z" fill="none" stroke="#111" stroke-width="4.9" stroke-linejoin="miter" stroke-miterlimit="3"/>
<path d="M 2067.5 1039.5 L 2067.5 1078.5 C 2080 1078 2086 1072 2088.5 1062 L 2092.5 1039.5 Z" fill="none" stroke="#fff" stroke-width="3.2" stroke-linejoin="miter" stroke-miterlimit="3"/>
<path d="M 1997.8 1036.3 L 2094.5 1036.3" fill="none" stroke="#111" stroke-width="4.9" stroke-linejoin="miter" stroke-miterlimit="3"/>
<path d="M 1997.8 1036.3 L 2094.5 1036.3" fill="none" stroke="#fff" stroke-width="3.2" stroke-linejoin="miter" stroke-miterlimit="3"/>
<path d="M 2001.5 1261 L 2007 1234 Q 2012 1219.5 2026 1219.5 L 2026 1232" fill="none" stroke="#111" stroke-width="4.9" stroke-linejoin="miter" stroke-miterlimit="3"/>
<path d="M 2001.5 1261 L 2007 1234 Q 2012 1219.5 2026 1219.5 L 2026 1232" fill="none" stroke="#fff" stroke-width="3.2" stroke-linejoin="miter" stroke-miterlimit="3"/>
<path d="M 2072.3 1261 L 2072.3 1219.5 Q 2090 1220 2095.5 1240 L 2098 1261" fill="none" stroke="#111" stroke-width="4.9" stroke-linejoin="miter" stroke-miterlimit="3"/>
<path d="M 2072.3 1261 L 2072.3 1219.5 Q 2090 1220 2095.5 1240 L 2098 1261" fill="none" stroke="#fff" stroke-width="3.2" stroke-linejoin="miter" stroke-miterlimit="3"/>
<path d="M 2000 1262 L 2099 1262" fill="none" stroke="#111" stroke-width="4.9" stroke-linejoin="miter" stroke-miterlimit="3"/>
<path d="M 2000 1262 L 2099 1262" fill="none" stroke="#fff" stroke-width="3.2" stroke-linejoin="miter" stroke-miterlimit="3"/>
<path d="M 2000 1264.5 L 1964.7 1301 L 1964.7 1314.2 L 2134.3 1314.2 L 2134.3 1301 L 2098.5 1264.5" fill="none" stroke="#111" stroke-width="4.9" stroke-linejoin="miter" stroke-miterlimit="3"/>
<path d="M 2000 1264.5 L 1964.7 1301 L 1964.7 1314.2 L 2134.3 1314.2 L 2134.3 1301 L 2098.5 1264.5" fill="none" stroke="#fff" stroke-width="3.2" stroke-linejoin="miter" stroke-miterlimit="3"/>
<path d="M 2049.5 1264.5 L 2049.5 1303.5" fill="none" stroke="#111" stroke-width="4.9" stroke-linejoin="miter" stroke-miterlimit="3"/>
<path d="M 2049.5 1264.5 L 2049.5 1303.5" fill="none" stroke="#fff" stroke-width="3.2" stroke-linejoin="miter" stroke-miterlimit="3"/>
<path d="M 2009 1312 L 2009 1304 L 2024 1304 L 2024 1307.5 L 2012.5 1307.5 L 2012.5 1312" fill="none" stroke="#111" stroke-width="0.9"/>
<path d="M 2089.5 1312 L 2089.5 1304 L 2075 1304 L 2075 1307.5 L 2086 1307.5 L 2086 1312" fill="none" stroke="#111" stroke-width="0.9"/>
<path d="M 2004 1265 L 2013 1265 L 2013 1277 L 2009 1277 L 2006 1270" fill="none" stroke="#111" stroke-width="0.9"/>
<path d="M 2094 1265 L 2086 1265 L 2086 1277 L 2090 1277 L 2093 1270" fill="none" stroke="#111" stroke-width="0.9"/>
<text x="1806" y="991.7" font-family="'Liberation Sans', sans-serif" font-size="5.6" font-weight="normal" text-anchor="start" fill="#444" textLength="36" lengthAdjust="spacingAndGlyphs">RAIL 3371 V1</text>
<path d="M 1762.2 997.2 L 1777.9 990.1 L 1800.6 990.1" fill="none" stroke="#444" stroke-width="0.8"/>
<text x="1705.8" y="1041.8" font-family="'Liberation Sans', sans-serif" font-size="5.6" font-weight="normal" text-anchor="start" fill="#444" textLength="41" lengthAdjust="spacingAndGlyphs">BASE CANNEL</text>
<text x="1705.8" y="1049.7" font-family="'Liberation Sans', sans-serif" font-size="5.6" font-weight="normal" text-anchor="start" fill="#444" textLength="22" lengthAdjust="spacingAndGlyphs">3373 V5</text>
<path d="M 1668.2 1023.8 L 1678.3 1040.3 L 1701.1 1040.3" fill="none" stroke="#444" stroke-width="0.8"/>
<text x="1742.6" y="1121.8" font-family="'Liberation Sans', sans-serif" font-size="5.6" font-weight="normal" text-anchor="end" fill="#444" textLength="51.7" lengthAdjust="spacingAndGlyphs">ELECTRIC COVER</text>
<text x="1742.6" y="1128.8" font-family="'Liberation Sans', sans-serif" font-size="5.6" font-weight="normal" text-anchor="end" fill="#444" textLength="22" lengthAdjust="spacingAndGlyphs">3405 V2</text>
<path d="M 1748.1 1120.2 L 1771.6 1120.2 L 1785.7 1125.7" fill="none" stroke="#444" stroke-width="0.8"/>
<text x="1593.7" y="1353.8" font-family="'Liberation Serif', serif" font-size="20" font-weight="bold" text-anchor="start" fill="#000" stroke="#000" stroke-width="0.45" stroke-linejoin="round" textLength="272.7" lengthAdjust="spacingAndGlyphs">ASSEMBLY 1 (3371-3373-3405)</text>
<line x1="1591" y1="1359.2" x2="1875.4" y2="1359.2" stroke="#333" stroke-width="1.2"/>
<line x1="1591" y1="1364.7" x2="1875.4" y2="1364.7" stroke="#666" stroke-width="1.2"/>
<text x="1806.9" y="1376.5" font-family="'Liberation Serif', serif" font-size="12" font-weight="bold" text-anchor="start" fill="#000" textLength="59.5" lengthAdjust="spacingAndGlyphs">SCALE 1:1</text>
<text x="1949.2" y="1026.1" font-family="'Liberation Sans', sans-serif" font-size="5.6" font-weight="normal" text-anchor="end" fill="#444" textLength="19" lengthAdjust="spacingAndGlyphs">UNION</text>
<text x="1949.2" y="1032.6" font-family="'Liberation Sans', sans-serif" font-size="5.6" font-weight="normal" text-anchor="end" fill="#444" textLength="22" lengthAdjust="spacingAndGlyphs">3370 V3</text>
<path d="M 1954 1023.7 L 1976.8 1023.7 L 1995.9 1031.8" fill="none" stroke="#444" stroke-width="0.8"/>
<text x="2134.2" y="1005" font-family="'Liberation Sans', sans-serif" font-size="5.6" font-weight="normal" text-anchor="start" fill="#444" textLength="36" lengthAdjust="spacingAndGlyphs">RAIL 3371 V1</text>
<path d="M 2090 1010.7 L 2106.2 1003.4 L 2129 1003.4" fill="none" stroke="#444" stroke-width="0.8"/>
<text x="2135.9" y="1073.8" font-family="'Liberation Sans', sans-serif" font-size="5.6" font-weight="normal" text-anchor="start" fill="#444" textLength="36" lengthAdjust="spacingAndGlyphs">RAIL 3371 V1</text>
<path d="M 2090.8 1062 L 2107.9 1072.2 L 2130.6 1072.2" fill="none" stroke="#444" stroke-width="0.8"/>
<text x="1936.2" y="1110.8" font-family="'Liberation Serif', serif" font-size="20" font-weight="bold" text-anchor="start" fill="#000" stroke="#000" stroke-width="0.45" stroke-linejoin="round" textLength="227" lengthAdjust="spacingAndGlyphs">ASSEMBLY 3 (3370-3371)</text>
<line x1="1934.2" y1="1116.5" x2="2167" y2="1116.5" stroke="#333" stroke-width="1.2"/>
<line x1="1934.2" y1="1121.7" x2="2167" y2="1121.7" stroke="#666" stroke-width="1.2"/>
<text x="2103" y="1133.6" font-family="'Liberation Serif', serif" font-size="12" font-weight="bold" text-anchor="start" fill="#000" textLength="60.2" lengthAdjust="spacingAndGlyphs">SCALE 1:1</text>
<text x="1913.9" y="1234.6" font-family="'Liberation Sans', sans-serif" font-size="5.6" font-weight="normal" text-anchor="start" fill="#444" textLength="43.9" lengthAdjust="spacingAndGlyphs">COVER 3547 V1</text>
<path d="M 1963 1232.7 L 1985.8 1232.7 L 2003.7 1240.3" fill="none" stroke="#444" stroke-width="0.8"/>
<text x="2132" y="1233.8" font-family="'Liberation Sans', sans-serif" font-size="5.6" font-weight="normal" text-anchor="start" fill="#444" textLength="36" lengthAdjust="spacingAndGlyphs">RAIL 3371 V1</text>
<path d="M 2094.8 1237.9 L 2103.8 1232.2 L 2126.6 1232.2" fill="none" stroke="#444" stroke-width="0.8"/>
<text x="1967.9" y="1330.7" font-family="'Liberation Sans', sans-serif" font-size="5.6" font-weight="normal" text-anchor="start" fill="#444" textLength="37" lengthAdjust="spacingAndGlyphs">SIDE 3369 V4</text>
<path d="M 2011 1329 L 2033.8 1329 L 2049.3 1316" fill="none" stroke="#444" stroke-width="0.8"/>
<text x="1925.2" y="1351.8" font-family="'Liberation Serif', serif" font-size="20" font-weight="bold" text-anchor="start" fill="#000" stroke="#000" stroke-width="0.45" stroke-linejoin="round" textLength="273" lengthAdjust="spacingAndGlyphs">ASSEMBLY 2 (3547-3369-3371)</text>
<line x1="1919" y1="1357.5" x2="2203.9" y2="1357.5" stroke="#333" stroke-width="1.2"/>
<line x1="1919" y1="1362.4" x2="2203.9" y2="1362.4" stroke="#666" stroke-width="1.2"/>
<text x="2138.5" y="1374.6" font-family="'Liberation Serif', serif" font-size="12" font-weight="bold" text-anchor="start" fill="#000" textLength="59.7" lengthAdjust="spacingAndGlyphs">SCALE 1:1</text>
<rect x="61.2" y="1449" width="2585.3" height="549" fill="none" stroke="#444" stroke-width="1.2"/>
<rect x="67" y="1454.6" width="2573.8" height="537.6" fill="none" stroke="#333" stroke-width="1.2"/>
<line x1="477" y1="1454.6" x2="477" y2="1992.2" stroke="#444" stroke-width="1.2"/>
<line x1="1065.7" y1="1454.6" x2="1065.7" y2="1992.2" stroke="#444" stroke-width="1.2"/>
<line x1="1415" y1="1454.6" x2="1415" y2="1992.2" stroke="#444" stroke-width="1.2"/>
<line x1="1790" y1="1454.6" x2="1790" y2="1992.2" stroke="#444" stroke-width="1.2"/>
<line x1="2185" y1="1454.6" x2="2185" y2="1992.2" stroke="#444" stroke-width="1.2"/>
<path d="M 158.7 1537.6 L 172.2 1540.35 Q 179.45 1542.85 179.45 1549.85 L 173.2 1549.85" fill="none" stroke="#111" stroke-width="3" stroke-linejoin="miter" stroke-miterlimit="3"/>
<path d="M 158.7 1537.6 L 172.2 1540.35 Q 179.45 1542.85 179.45 1549.85 L 173.2 1549.85" fill="none" stroke="#fff" stroke-width="1.45" stroke-linejoin="miter" stroke-miterlimit="3"/>
<path d="M 158.7 1573 L 179.45 1573 Q 179.2 1581.85 169.2 1584.6 L 158.7 1585.85" fill="none" stroke="#111" stroke-width="3" stroke-linejoin="miter" stroke-miterlimit="3"/>
<path d="M 158.7 1573 L 179.45 1573 Q 179.2 1581.85 169.2 1584.6 L 158.7 1585.85" fill="none" stroke="#fff" stroke-width="1.45" stroke-linejoin="miter" stroke-miterlimit="3"/>
<path d="M 158.2 1536.85 L 158.2 1586.35" fill="none" stroke="#111" stroke-width="3" stroke-linejoin="miter" stroke-miterlimit="3"/>
<path d="M 158.2 1536.85 L 158.2 1586.35" fill="none" stroke="#fff" stroke-width="1.45" stroke-linejoin="miter" stroke-miterlimit="3"/>
<path d="M 156.95 1536.85 L 138.7 1519.2 L 132.1 1519.2 L 132.1 1604 L 138.7 1604 L 156.95 1586.1" fill="none" stroke="#111" stroke-width="3" stroke-linejoin="miter" stroke-miterlimit="3"/>
<path d="M 156.95 1536.85 L 138.7 1519.2 L 132.1 1519.2 L 132.1 1604 L 138.7 1604 L 156.95 1586.1" fill="none" stroke="#fff" stroke-width="1.45" stroke-linejoin="miter" stroke-miterlimit="3"/>
<path d="M 156.95 1561.6 L 137.45 1561.6" fill="none" stroke="#111" stroke-width="3" stroke-linejoin="miter" stroke-miterlimit="3"/>
<path d="M 156.95 1561.6 L 137.45 1561.6" fill="none" stroke="#fff" stroke-width="1.45" stroke-linejoin="miter" stroke-miterlimit="3"/>
<path d="M 133.2 1541.35 L 137.2 1541.35 L 137.2 1548.85 L 135.45 1548.85 L 135.45 1543.1 L 133.2 1543.1" fill="none" stroke="#111" stroke-width="0.7"/>
<path d="M 133.2 1581.6 L 137.2 1581.6 L 137.2 1574.35 L 135.45 1574.35 L 135.45 1579.85 L 133.2 1579.85" fill="none" stroke="#111" stroke-width="0.7"/>
<path d="M 156.7 1538.85 L 156.7 1543.35 L 150.7 1543.35 L 150.7 1541.35 L 154.2 1539.85" fill="none" stroke="#111" stroke-width="0.7"/>
<path d="M 156.7 1583.85 L 156.7 1579.85 L 150.7 1579.85 L 150.7 1581.85 L 154.2 1583.35" fill="none" stroke="#111" stroke-width="0.7"/>
<line x1="131.1" y1="1611.1" x2="131.1" y2="1905.3" stroke="#111" stroke-width="1.1"/>
<line x1="138.4" y1="1611.1" x2="138.4" y2="1905.3" stroke="#111" stroke-width="1.1"/>
<line x1="156.9" y1="1592.5" x2="156.9" y2="1753.2" stroke="#111" stroke-width="1.1"/>
<line x1="158.6" y1="1592.5" x2="158.6" y2="1753.2" stroke="#777" stroke-width="1" stroke-dasharray="7,3"/>
<line x1="180" y1="1582.4" x2="180" y2="1732.1" stroke="#111" stroke-width="1.1"/>
<line x1="180" y1="1732.1" x2="338.4" y2="1732.1" stroke="#111" stroke-width="1.1"/>
<line x1="157" y1="1753.2" x2="320.6" y2="1753.2" stroke="#333" stroke-width="0.9" stroke-dasharray="9,6"/>
<line x1="157" y1="1755.7" x2="324.9" y2="1755.7" stroke="#111" stroke-width="1.1"/>
<line x1="157" y1="1753.2" x2="180" y2="1732.1" stroke="#111" stroke-width="1.1"/>
<line x1="157" y1="1755.7" x2="138.8" y2="1854.4" stroke="#111" stroke-width="1.1"/>
<line x1="138.4" y1="1854.4" x2="306.8" y2="1854.4" stroke="#111" stroke-width="1.1"/>
<line x1="81.2" y1="1854.4" x2="131" y2="1854.4" stroke="#555" stroke-width="0.8"/>
<line x1="138.4" y1="1890.1" x2="306.8" y2="1890.1" stroke="#111" stroke-width="1.1"/>
<line x1="81.2" y1="1905.3" x2="306.8" y2="1905.3" stroke="#111" stroke-width="1.1"/>
<line x1="180" y1="1732.1" x2="221.1" y2="1690.7" stroke="#333" stroke-width="0.9"/>
<line x1="178.1" y1="1730" x2="122.5" y2="1674.9" stroke="#333" stroke-width="0.9"/>
<line x1="102.1" y1="1696.6" x2="156.9" y2="1753.2" stroke="#333" stroke-width="0.9"/>
<line x1="91.9" y1="1705" x2="108" y2="1689" stroke="#222" stroke-width="0.8"/>
<polygon points="108,1689 105.72,1693.8 103.18,1691.25" fill="#222"/>
<line x1="132.4" y1="1665.4" x2="116" y2="1681" stroke="#222" stroke-width="0.8"/>
<polygon points="116,1681 118.38,1676.25 120.86,1678.86" fill="#222"/>
<text x="113" y="1684" font-family="'Liberation Sans', sans-serif" font-size="9.3" font-weight="normal" text-anchor="middle" fill="#555" transform="rotate(-45 113 1684)">21.21</text>
<line x1="101.2" y1="1742.2" x2="157" y2="1753.2" stroke="#333" stroke-width="0.9"/>
<line x1="81.2" y1="1843.3" x2="135.7" y2="1854" stroke="#333" stroke-width="0.9"/>
<line x1="97" y1="1795" x2="106.5" y2="1744.2" stroke="#222" stroke-width="0.8"/>
<polygon points="106.5,1744.2 107.35,1749.45 103.81,1748.78" fill="#222"/>
<line x1="97" y1="1795" x2="87.4" y2="1844" stroke="#222" stroke-width="0.8"/>
<polygon points="87.4,1844 86.59,1838.75 90.13,1839.44" fill="#222"/>
<rect x="88" y="1772" width="18" height="44" fill="#fff"/>
<text x="101" y="1794" font-family="'Liberation Sans', sans-serif" font-size="9.3" font-weight="normal" text-anchor="middle" fill="#444" transform="rotate(-80 101 1794)">72.90</text>
<line x1="86.8" y1="1880" x2="86.8" y2="1854.4" stroke="#222" stroke-width="0.8"/>
<polygon points="86.8,1854.4 88.6,1859.4 85,1859.4" fill="#222"/>
<line x1="86.8" y1="1880" x2="86.8" y2="1905.3" stroke="#222" stroke-width="0.8"/>
<polygon points="86.8,1905.3 85,1900.3 88.6,1900.3" fill="#222"/>
<rect x="80" y="1864" width="14" height="33" fill="#fff"/>
<text x="91" y="1880" font-family="'Liberation Sans', sans-serif" font-size="9.3" font-weight="normal" text-anchor="middle" fill="#444" transform="rotate(-90 91 1880)">35.57</text>
<line x1="150" y1="1779" x2="138.8" y2="1778" stroke="#222" stroke-width="0.8"/>
<polygon points="138.8,1778 143.94,1776.65 143.62,1780.24" fill="#222"/>
<line x1="145" y1="1779" x2="156" y2="1780" stroke="#222" stroke-width="0.8"/>
<polygon points="156,1780 150.86,1781.34 151.18,1777.75" fill="#222"/>
<text x="162.7" y="1787" font-family="'Liberation Sans', sans-serif" font-size="9.3" font-weight="normal" text-anchor="start" fill="#333" textLength="26" lengthAdjust="spacingAndGlyphs" transform="rotate(12 162.7 1787)">11.29°</text>
<path d="M217.7,1694 Q240,1720 241.3,1753" fill="none" stroke="#333" stroke-width="0.9"/>
<line x1="232" y1="1705" x2="217.7" y2="1694" stroke="#222" stroke-width="0.8"/>
<polygon points="217.7,1694 222.76,1695.62 220.57,1698.48" fill="#222"/>
<text x="231" y="1712" font-family="'Liberation Sans', sans-serif" font-size="9.3" font-weight="normal" text-anchor="start" fill="#333" transform="rotate(72 231 1712)">45.00°</text>
<line x1="257.3" y1="1700" x2="262.4" y2="1731" stroke="#222" stroke-width="0.8"/>
<polygon points="262.4,1731 259.81,1726.36 263.36,1725.77" fill="#222"/>
<path d="M158.1,1594.5 Q165,1591 171.3,1592 M180.5,1593.7 C192,1598 195,1608 203.3,1613.1 C212,1620 218,1624 225.3,1624.9 C240,1626 250,1618 262.4,1619.8 C275,1621 282,1622 289.4,1624.9 C300,1629 305,1634 309.7,1640 C318,1652 323,1665 323.2,1677.2 C324,1695 318,1710 318.9,1723.6 L320.6,1753.2" fill="none" stroke="#222" stroke-width="0.9" stroke-dasharray="9,6"/>
<text x="248.1" y="1672.5" font-family="'Liberation Serif', serif" font-size="14" font-weight="bold" text-anchor="start" fill="#000" textLength="29.2" lengthAdjust="spacingAndGlyphs">TILE</text>
<text x="219.4" y="1536.8" font-family="'Liberation Sans', sans-serif" font-size="9.3" font-weight="normal" text-anchor="start" fill="#222" textLength="51.4" lengthAdjust="spacingAndGlyphs">ASSEMBLY 2</text>
<line x1="215.1" y1="1533.4" x2="208.4" y2="1533.4" stroke="#222" stroke-width="0.8"/>
<line x1="208.4" y1="1533.4" x2="178" y2="1549" stroke="#222" stroke-width="0.8"/>
<polygon points="178,1549 181.63,1545.12 183.27,1548.32" fill="#222"/>
<text x="195.2" y="1635.9" font-family="'Liberation Sans', sans-serif" font-size="9.3" font-weight="normal" text-anchor="start" fill="#222" textLength="52" lengthAdjust="spacingAndGlyphs">ASSEMBLY 2</text>
<line x1="191.2" y1="1632" x2="185.6" y2="1632" stroke="#222" stroke-width="0.8"/>
<line x1="185.6" y1="1632" x2="173" y2="1646.5" stroke="#222" stroke-width="0.8"/>
<polygon points="173,1646.5 174.92,1641.55 177.64,1643.91" fill="#222"/>
<path d="M 348.35 1739.45 L 348.35 1733 Q 341.35 1733.2 338.75 1742.05 L 336.6 1754 L 317.7 1854.95 L 317.7 1904.1 L 402.1 1904.1 L 402.1 1854.95 L 383.35 1754.2 L 381.1 1741.7 Q 378.35 1733.2 371.35 1733 L 371.35 1753.2" fill="none" stroke="#111" stroke-width="3" stroke-linejoin="miter" stroke-miterlimit="3"/>
<path d="M 348.35 1739.45 L 348.35 1733 Q 341.35 1733.2 338.75 1742.05 L 336.6 1754 L 317.7 1854.95 L 317.7 1904.1 L 402.1 1904.1 L 402.1 1854.95 L 383.35 1754.2 L 381.1 1741.7 Q 378.35 1733.2 371.35 1733 L 371.35 1753.2" fill="none" stroke="#fff" stroke-width="1.45" stroke-linejoin="miter" stroke-miterlimit="3"/>
<path d="M 336.6 1754.5 L 383.35 1754.5" fill="none" stroke="#111" stroke-width="3" stroke-linejoin="miter" stroke-miterlimit="3"/>
<path d="M 336.6 1754.5 L 383.35 1754.5" fill="none" stroke="#fff" stroke-width="1.45" stroke-linejoin="miter" stroke-miterlimit="3"/>
<path d="M 318.8 1868.2 L 336.6 1871.6 L 359.6 1865.2 L 360.85 1859.7" fill="none" stroke="#111" stroke-width="3" stroke-linejoin="miter" stroke-miterlimit="3"/>
<path d="M 318.8 1868.2 L 336.6 1871.6 L 359.6 1865.2 L 360.85 1859.7" fill="none" stroke="#fff" stroke-width="1.45" stroke-linejoin="miter" stroke-miterlimit="3"/>
<path d="M 378.1 1755.7 L 379.35 1762.2 L 384.85 1761.7" fill="none" stroke="#111" stroke-width="0.7"/>
<path d="M 381.35 1755.7 L 382.35 1760.2 L 384.35 1759.7" fill="none" stroke="#111" stroke-width="0.7"/>
<path d="M 339.35 1902.7 L 339.35 1898.45 L 346.35 1898.45 L 346.35 1900.2 L 341.35 1900.2 L 341.35 1902.7" fill="none" stroke="#111" stroke-width="0.7"/>
<path d="M 380.1 1902.7 L 380.1 1898.45 L 373.1 1898.45 L 373.1 1900.2 L 378.1 1900.2 L 378.1 1902.7" fill="none" stroke="#111" stroke-width="0.7"/>
<path d="M 400.85 1882.7 L 396.35 1883.2 L 395.85 1885.2 L 398.85 1887.7 L 398.85 1892.7 L 400.85 1892.7" fill="none" stroke="#111" stroke-width="0.7"/>
<text x="415.3" y="1779.5" font-family="'Liberation Sans', sans-serif" font-size="9.3" font-weight="normal" text-anchor="start" fill="#222" textLength="51" lengthAdjust="spacingAndGlyphs">ASSEMBLY 1</text>
<line x1="412.2" y1="1776.4" x2="406" y2="1776.4" stroke="#222" stroke-width="0.8"/>
<line x1="406" y1="1776.4" x2="391.4" y2="1797.2" stroke="#222" stroke-width="0.8"/>
<polygon points="391.4,1797.2 392.8,1792.07 395.75,1794.14" fill="#222"/>
<text x="176.2" y="1948" font-family="'Liberation Serif', serif" font-size="56" font-weight="bold" text-anchor="start" fill="#000" stroke="#000" stroke-width="1.3" stroke-linejoin="round" textLength="38.5" lengthAdjust="spacingAndGlyphs">A</text>
<text x="218.8" y="1930.3" font-family="'Liberation Serif', serif" font-size="19" font-weight="bold" text-anchor="start" fill="#000" stroke="#000" stroke-width="0.45" stroke-linejoin="round" textLength="179.9" lengthAdjust="spacingAndGlyphs">ASSEMBLY 1 AND 2</text>
<line x1="218" y1="1938.2" x2="406" y2="1938.2" stroke="#333" stroke-width="1.2"/>
<line x1="218" y1="1943.4" x2="406" y2="1943.4" stroke="#666" stroke-width="1.2"/>
<text x="339.9" y="1957.3" font-family="'Liberation Serif', serif" font-size="12.5" font-weight="bold" text-anchor="start" fill="#000" stroke="#000" stroke-width="0.25" stroke-linejoin="round" textLength="60.9" lengthAdjust="spacingAndGlyphs">SCALE 1:2</text>
<path d="M 785.1 1540.75 L 791.25 1540.75 C 791.25 1535.5 789.1 1531.5 783.1 1530.5 L 770 1528.3 L 757.1 1530.5 C 751.1 1531.5 748.9 1535.5 748.9 1540.75 L 755.1 1540.75" fill="none" stroke="#111" stroke-width="3" stroke-linejoin="miter" stroke-miterlimit="3"/>
<path d="M 785.1 1540.75 L 791.25 1540.75 C 791.25 1535.5 789.1 1531.5 783.1 1530.5 L 770 1528.3 L 757.1 1530.5 C 751.1 1531.5 748.9 1535.5 748.9 1540.75 L 755.1 1540.75" fill="none" stroke="#fff" stroke-width="1.45" stroke-linejoin="miter" stroke-miterlimit="3"/>
<path d="M 771.6 1563.25 L 791.3 1563.25 C 791.1 1569.5 788.1 1572.5 783.1 1573.75 L 771.6 1575.75 Z" fill="none" stroke="#111" stroke-width="3" stroke-linejoin="miter" stroke-miterlimit="3"/>
<path d="M 771.6 1563.25 L 791.3 1563.25 C 791.1 1569.5 788.1 1572.5 783.1 1573.75 L 771.6 1575.75 Z" fill="none" stroke="#fff" stroke-width="1.45" stroke-linejoin="miter" stroke-miterlimit="3"/>
<path d="M 768.35 1563.25 L 748.85 1563.25 C 749.1 1569.5 752.1 1572.5 757.1 1573.75 L 768.35 1575.75 Z" fill="none" stroke="#111" stroke-width="3" stroke-linejoin="miter" stroke-miterlimit="3"/>
<path d="M 768.35 1563.25 L 748.85 1563.25 C 749.1 1569.5 752.1 1572.5 757.1 1573.75 L 768.35 1575.75 Z" fill="none" stroke="#fff" stroke-width="1.45" stroke-linejoin="miter" stroke-miterlimit="3"/>
<path d="M 769.95 1528.4 L 769.95 1576.75" fill="none" stroke="#111" stroke-width="3" stroke-linejoin="miter" stroke-miterlimit="3"/>
<path d="M 769.95 1528.4 L 769.95 1576.75" fill="none" stroke="#fff" stroke-width="1.45" stroke-linejoin="miter" stroke-miterlimit="3"/>
<line x1="770" y1="1529" x2="770" y2="1562" stroke="#555" stroke-width="0.7"/>
<line x1="748" y1="1574" x2="748" y2="1728.5" stroke="#111" stroke-width="1.1"/>
<line x1="792.1" y1="1574" x2="792.1" y2="1728.5" stroke="#111" stroke-width="1.1"/>
<line x1="770" y1="1587.3" x2="770" y2="1750" stroke="#111" stroke-width="2"/>
<line x1="577.6" y1="1729.1" x2="748" y2="1729.1" stroke="#111" stroke-width="1.1"/>
<line x1="792" y1="1729.1" x2="962.3" y2="1729.1" stroke="#111" stroke-width="1.1"/>
<polyline points="748,1729 770,1750 792,1729" fill="none" stroke="#111" stroke-width="1.1"/>
<line x1="607.9" y1="1750" x2="930.6" y2="1750" stroke="#333" stroke-width="0.9" stroke-dasharray="9,6"/>
<line x1="591.3" y1="1752.5" x2="949.9" y2="1752.5" stroke="#111" stroke-width="1.1"/>
<line x1="748" y1="1729" x2="716.8" y2="1696.8" stroke="#333" stroke-width="0.9"/>
<line x1="792" y1="1729" x2="823.8" y2="1698.2" stroke="#333" stroke-width="0.9"/>
<path d="M726.5,1707.9 Q735,1692 756,1688" fill="none" stroke="#333" stroke-width="0.9"/>
<path d="M785,1688 Q805,1692 813.4,1707.9" fill="none" stroke="#333" stroke-width="0.9"/>
<line x1="740" y1="1694" x2="726.5" y2="1707.9" stroke="#222" stroke-width="0.8"/>
<polygon points="726.5,1707.9 728.69,1703.06 731.27,1705.57" fill="#222"/>
<line x1="800" y1="1694" x2="813.4" y2="1707.9" stroke="#222" stroke-width="0.8"/>
<polygon points="813.4,1707.9 808.63,1705.55 811.23,1703.05" fill="#222"/>
<text x="756.8" y="1692.7" font-family="'Liberation Sans', sans-serif" font-size="9.3" font-weight="normal" text-anchor="start" fill="#333" textLength="26.2" lengthAdjust="spacingAndGlyphs">90.00°</text>
<text x="708" y="1723" font-family="'Liberation Sans', sans-serif" font-size="9.3" font-weight="normal" text-anchor="middle" fill="#333" transform="rotate(-72 708 1723)">45.00°</text>
<text x="833" y="1723" font-family="'Liberation Sans', sans-serif" font-size="9.3" font-weight="normal" text-anchor="middle" fill="#333" transform="rotate(72 833 1723)">45.00°</text>
<line x1="700.3" y1="1736" x2="700.3" y2="1750" stroke="#222" stroke-width="0.8"/>
<polygon points="700.3,1750 698.5,1745 702.1,1745" fill="#222"/>
<line x1="839.5" y1="1736" x2="839.5" y2="1750" stroke="#222" stroke-width="0.8"/>
<polygon points="839.5,1750 837.7,1745 841.3,1745" fill="#222"/>
<line x1="714" y1="1705" x2="720" y2="1699" stroke="#222" stroke-width="0.8"/>
<polygon points="720,1699 717.74,1703.81 715.19,1701.26" fill="#222"/>
<line x1="826" y1="1705" x2="820" y2="1699" stroke="#222" stroke-width="0.8"/>
<polygon points="820,1699 824.81,1701.26 822.26,1703.81" fill="#222"/>
<path d="M607.9,1750 L606,1720 C604,1700 604,1690 605.1,1684.4 C606,1660 610,1645 617.5,1637.5 C630,1622 645,1617 657.5,1616.9 C675,1616 688,1622 698.9,1621 C715,1619 725,1610 734.8,1600.3 C740,1595 744,1592 747.2,1590.6" fill="none" stroke="#222" stroke-width="0.9" stroke-dasharray="9,6"/>
<path d="M932.1,1750 L934,1720 C936,1700 936,1690 934.9,1684.4 C934,1660 930,1645 922.5,1637.5 C910,1622 895,1617 882.5,1616.9 C865,1616 852,1622 841.1,1621 C825,1619 815,1610 805.2,1600.3 C800,1595 796,1592 792.8,1590.6" fill="none" stroke="#222" stroke-width="0.9" stroke-dasharray="9,6"/>
<path d="M756,1589.5 Q764,1588.5 770,1592 Q776,1588.5 784,1589.5" fill="none" stroke="#333" stroke-width="0.8"/>
<text x="628.6" y="1670.6" font-family="'Liberation Serif', serif" font-size="14" font-weight="bold" text-anchor="start" fill="#000" textLength="29" lengthAdjust="spacingAndGlyphs">TILE</text>
<text x="879.5" y="1670.6" font-family="'Liberation Serif', serif" font-size="14" font-weight="bold" text-anchor="start" fill="#000" textLength="28.5" lengthAdjust="spacingAndGlyphs">TILE</text>
<text x="735.3" y="1499.6" font-family="'Liberation Sans', sans-serif" font-size="9.3" font-weight="normal" text-anchor="start" fill="#222" textLength="52.4" lengthAdjust="spacingAndGlyphs">ASSEMBLY 3</text>
<line x1="733.4" y1="1496.9" x2="725.1" y2="1496.9" stroke="#222" stroke-width="0.8"/>
<line x1="725.1" y1="1496.9" x2="749.9" y2="1532.7" stroke="#222" stroke-width="0.8"/>
<polygon points="749.9,1532.7 745.57,1529.61 748.53,1527.56" fill="#222"/>
<text x="811.4" y="1642.5" font-family="'Liberation Sans', sans-serif" font-size="9.3" font-weight="normal" text-anchor="start" fill="#222" textLength="52.4" lengthAdjust="spacingAndGlyphs">ASSEMBLY 3</text>
<line x1="806.5" y1="1638.9" x2="787.2" y2="1638.9" stroke="#222" stroke-width="0.8"/>
<line x1="787.2" y1="1638.9" x2="770.6" y2="1645.8" stroke="#222" stroke-width="0.8"/>
<polygon points="770.6,1645.8 774.53,1642.22 775.91,1645.54" fill="#222"/>
<text x="526.5" y="1706.5" font-family="'Liberation Sans', sans-serif" font-size="9.3" font-weight="normal" text-anchor="start" fill="#222" textLength="51.5" lengthAdjust="spacingAndGlyphs">ASSEMBLY 1</text>
<line x1="519.6" y1="1702.3" x2="522" y2="1702.3" stroke="#222" stroke-width="0.8"/>
<line x1="522" y1="1702.3" x2="555.5" y2="1731.3" stroke="#222" stroke-width="0.8"/>
<polygon points="555.5,1731.3 550.54,1729.39 552.9,1726.67" fill="#222"/>
<text x="960.4" y="1705.1" font-family="'Liberation Sans', sans-serif" font-size="9.3" font-weight="normal" text-anchor="start" fill="#222" textLength="51.5" lengthAdjust="spacingAndGlyphs">ASSEMBLY 1</text>
<line x1="955.4" y1="1701" x2="951.2" y2="1701" stroke="#222" stroke-width="0.8"/>
<line x1="951.2" y1="1701" x2="911.3" y2="1742.3" stroke="#222" stroke-width="0.8"/>
<polygon points="911.3,1742.3 913.48,1737.45 916.07,1739.95" fill="#222"/>
<line x1="951.2" y1="1701" x2="988.5" y2="1739.6" stroke="#222" stroke-width="0.8"/>
<polygon points="988.5,1739.6 983.73,1737.26 986.32,1734.75" fill="#222"/>
<path d="M 534.85 1736.35 L 534.85 1729.9 Q 527.85 1730.1 525.25 1738.95 L 523.1 1750.9 L 504.2 1851.85 L 504.2 1901 L 588.6 1901 L 588.6 1851.85 L 569.85 1751.1 L 567.6 1738.6 Q 564.85 1730.1 557.85 1729.9 L 557.85 1750.1" fill="none" stroke="#111" stroke-width="3" stroke-linejoin="miter" stroke-miterlimit="3"/>
<path d="M 534.85 1736.35 L 534.85 1729.9 Q 527.85 1730.1 525.25 1738.95 L 523.1 1750.9 L 504.2 1851.85 L 504.2 1901 L 588.6 1901 L 588.6 1851.85 L 569.85 1751.1 L 567.6 1738.6 Q 564.85 1730.1 557.85 1729.9 L 557.85 1750.1" fill="none" stroke="#fff" stroke-width="1.45" stroke-linejoin="miter" stroke-miterlimit="3"/>
<path d="M 523.1 1751.4 L 569.85 1751.4" fill="none" stroke="#111" stroke-width="3" stroke-linejoin="miter" stroke-miterlimit="3"/>
<path d="M 523.1 1751.4 L 569.85 1751.4" fill="none" stroke="#fff" stroke-width="1.45" stroke-linejoin="miter" stroke-miterlimit="3"/>
<path d="M 505.3 1865.1 L 523.1 1868.5 L 546.1 1862.1 L 547.35 1856.6" fill="none" stroke="#111" stroke-width="3" stroke-linejoin="miter" stroke-miterlimit="3"/>
<path d="M 505.3 1865.1 L 523.1 1868.5 L 546.1 1862.1 L 547.35 1856.6" fill="none" stroke="#fff" stroke-width="1.45" stroke-linejoin="miter" stroke-miterlimit="3"/>
<path d="M 564.6 1752.6 L 565.85 1759.1 L 571.35 1758.6" fill="none" stroke="#111" stroke-width="0.7"/>
<path d="M 567.85 1752.6 L 568.85 1757.1 L 570.85 1756.6" fill="none" stroke="#111" stroke-width="0.7"/>
<path d="M 525.85 1899.6 L 525.85 1895.35 L 532.85 1895.35 L 532.85 1897.1 L 527.85 1897.1 L 527.85 1899.6" fill="none" stroke="#111" stroke-width="0.7"/>
<path d="M 566.6 1899.6 L 566.6 1895.35 L 559.6 1895.35 L 559.6 1897.1 L 564.6 1897.1 L 564.6 1899.6" fill="none" stroke="#111" stroke-width="0.7"/>
<path d="M 587.35 1879.6 L 582.85 1880.1 L 582.35 1882.1 L 585.35 1884.6 L 585.35 1889.6 L 587.35 1889.6" fill="none" stroke="#111" stroke-width="0.7"/>
<path d="M 1003.05 1736.35 L 1003.05 1729.9 Q 1010.05 1730.1 1012.65 1738.95 L 1014.8 1750.9 L 1033.7 1851.85 L 1033.7 1901 L 949.3 1901 L 949.3 1851.85 L 968.05 1751.1 L 970.3 1738.6 Q 973.05 1730.1 980.05 1729.9 L 980.05 1750.1" fill="none" stroke="#111" stroke-width="3" stroke-linejoin="miter" stroke-miterlimit="3"/>
<path d="M 1003.05 1736.35 L 1003.05 1729.9 Q 1010.05 1730.1 1012.65 1738.95 L 1014.8 1750.9 L 1033.7 1851.85 L 1033.7 1901 L 949.3 1901 L 949.3 1851.85 L 968.05 1751.1 L 970.3 1738.6 Q 973.05 1730.1 980.05 1729.9 L 980.05 1750.1" fill="none" stroke="#fff" stroke-width="1.45" stroke-linejoin="miter" stroke-miterlimit="3"/>
<path d="M 1014.8 1751.4 L 968.05 1751.4" fill="none" stroke="#111" stroke-width="3" stroke-linejoin="miter" stroke-miterlimit="3"/>
<path d="M 1014.8 1751.4 L 968.05 1751.4" fill="none" stroke="#fff" stroke-width="1.45" stroke-linejoin="miter" stroke-miterlimit="3"/>
<path d="M 1032.6 1865.1 L 1014.8 1868.5 L 991.8 1862.1 L 990.55 1856.6" fill="none" stroke="#111" stroke-width="3" stroke-linejoin="miter" stroke-miterlimit="3"/>
<path d="M 1032.6 1865.1 L 1014.8 1868.5 L 991.8 1862.1 L 990.55 1856.6" fill="none" stroke="#fff" stroke-width="1.45" stroke-linejoin="miter" stroke-miterlimit="3"/>
<path d="M 973.3 1752.6 L 972.05 1759.1 L 966.55 1758.6" fill="none" stroke="#111" stroke-width="0.7"/>
<path d="M 970.05 1752.6 L 969.05 1757.1 L 967.05 1756.6" fill="none" stroke="#111" stroke-width="0.7"/>
<path d="M 1012.05 1899.6 L 1012.05 1895.35 L 1005.05 1895.35 L 1005.05 1897.1 L 1010.05 1897.1 L 1010.05 1899.6" fill="none" stroke="#111" stroke-width="0.7"/>
<path d="M 971.3 1899.6 L 971.3 1895.35 L 978.3 1895.35 L 978.3 1897.1 L 973.3 1897.1 L 973.3 1899.6" fill="none" stroke="#111" stroke-width="0.7"/>
<path d="M 950.55 1879.6 L 955.05 1880.1 L 955.55 1882.1 L 952.55 1884.6 L 952.55 1889.6 L 950.55 1889.6" fill="none" stroke="#111" stroke-width="0.7"/>
<line x1="609.3" y1="1851.7" x2="930.6" y2="1851.7" stroke="#111" stroke-width="1.1"/>
<line x1="609.3" y1="1887.5" x2="930.6" y2="1887.5" stroke="#111" stroke-width="1.1"/>
<line x1="609.3" y1="1902.2" x2="930.6" y2="1902.2" stroke="#111" stroke-width="1.1"/>
<text x="668" y="1945.5" font-family="'Liberation Serif', serif" font-size="56" font-weight="bold" text-anchor="start" fill="#000" stroke="#000" stroke-width="1.3" stroke-linejoin="round" textLength="37.5" lengthAdjust="spacingAndGlyphs">B</text>
<text x="709.4" y="1929.7" font-family="'Liberation Serif', serif" font-size="19" font-weight="bold" text-anchor="start" fill="#000" stroke="#000" stroke-width="0.45" stroke-linejoin="round" textLength="180.4" lengthAdjust="spacingAndGlyphs">ASSEMBLY 1 AND 3</text>
<line x1="709" y1="1936.6" x2="898.8" y2="1936.6" stroke="#333" stroke-width="1.2"/>
<line x1="709" y1="1942.7" x2="898.8" y2="1942.7" stroke="#666" stroke-width="1.2"/>
<text x="829.1" y="1957" font-family="'Liberation Serif', serif" font-size="12.5" font-weight="bold" text-anchor="start" fill="#000" stroke="#000" stroke-width="0.25" stroke-linejoin="round" textLength="60.7" lengthAdjust="spacingAndGlyphs">SCALE 1:2</text>
<path d="M 1125.1 1506.9 L 1138.6 1509.65 Q 1145.85 1512.15 1145.85 1519.15 L 1139.6 1519.15" fill="none" stroke="#111" stroke-width="3" stroke-linejoin="miter" stroke-miterlimit="3"/>
<path d="M 1125.1 1506.9 L 1138.6 1509.65 Q 1145.85 1512.15 1145.85 1519.15 L 1139.6 1519.15" fill="none" stroke="#fff" stroke-width="1.45" stroke-linejoin="miter" stroke-miterlimit="3"/>
<path d="M 1125.1 1542.3 L 1145.85 1542.3 Q 1145.6 1551.15 1135.6 1553.9 L 1125.1 1555.15" fill="none" stroke="#111" stroke-width="3" stroke-linejoin="miter" stroke-miterlimit="3"/>
<path d="M 1125.1 1542.3 L 1145.85 1542.3 Q 1145.6 1551.15 1135.6 1553.9 L 1125.1 1555.15" fill="none" stroke="#fff" stroke-width="1.45" stroke-linejoin="miter" stroke-miterlimit="3"/>
<path d="M 1124.6 1506.15 L 1124.6 1555.65" fill="none" stroke="#111" stroke-width="3" stroke-linejoin="miter" stroke-miterlimit="3"/>
<path d="M 1124.6 1506.15 L 1124.6 1555.65" fill="none" stroke="#fff" stroke-width="1.45" stroke-linejoin="miter" stroke-miterlimit="3"/>
<path d="M 1123.35 1506.15 L 1105.1 1488.5 L 1098.5 1488.5 L 1098.5 1573.3 L 1105.1 1573.3 L 1123.35 1555.4" fill="none" stroke="#111" stroke-width="3" stroke-linejoin="miter" stroke-miterlimit="3"/>
<path d="M 1123.35 1506.15 L 1105.1 1488.5 L 1098.5 1488.5 L 1098.5 1573.3 L 1105.1 1573.3 L 1123.35 1555.4" fill="none" stroke="#fff" stroke-width="1.45" stroke-linejoin="miter" stroke-miterlimit="3"/>
<path d="M 1123.35 1530.9 L 1103.85 1530.9" fill="none" stroke="#111" stroke-width="3" stroke-linejoin="miter" stroke-miterlimit="3"/>
<path d="M 1123.35 1530.9 L 1103.85 1530.9" fill="none" stroke="#fff" stroke-width="1.45" stroke-linejoin="miter" stroke-miterlimit="3"/>
<path d="M 1099.6 1510.65 L 1103.6 1510.65 L 1103.6 1518.15 L 1101.85 1518.15 L 1101.85 1512.4 L 1099.6 1512.4" fill="none" stroke="#111" stroke-width="0.7"/>
<path d="M 1099.6 1550.9 L 1103.6 1550.9 L 1103.6 1543.65 L 1101.85 1543.65 L 1101.85 1549.15 L 1099.6 1549.15" fill="none" stroke="#111" stroke-width="0.7"/>
<path d="M 1123.1 1508.15 L 1123.1 1512.65 L 1117.1 1512.65 L 1117.1 1510.65 L 1120.6 1509.15" fill="none" stroke="#111" stroke-width="0.7"/>
<path d="M 1123.1 1553.15 L 1123.1 1549.15 L 1117.1 1549.15 L 1117.1 1551.15 L 1120.6 1552.65" fill="none" stroke="#111" stroke-width="0.7"/>
<line x1="1097.5" y1="1579.3" x2="1097.5" y2="1896" stroke="#111" stroke-width="1.1"/>
<line x1="1104.8" y1="1579.3" x2="1104.8" y2="1896" stroke="#111" stroke-width="1.1"/>
<line x1="1123" y1="1561" x2="1123" y2="1896" stroke="#111" stroke-width="1.1"/>
<line x1="1126.3" y1="1561" x2="1126.3" y2="1896" stroke="#444" stroke-width="0.9" stroke-dasharray="8,5"/>
<line x1="1146.9" y1="1551" x2="1146.9" y2="1705.3" stroke="#111" stroke-width="1.1"/>
<line x1="1146.9" y1="1750" x2="1146.9" y2="1896" stroke="#111" stroke-width="1.1"/>
<line x1="1146.9" y1="1705.3" x2="1307" y2="1705.3" stroke="#111" stroke-width="1.1"/>
<line x1="1146.9" y1="1750" x2="1307" y2="1750" stroke="#111" stroke-width="1.1"/>
<line x1="1126" y1="1726.9" x2="1293.8" y2="1726.9" stroke="#111" stroke-width="2"/>
<polyline points="1146.9,1705.3 1125.6,1726.9 1146.9,1750" fill="none" stroke="#111" stroke-width="1.1"/>
<path d="M 1321.95 1712.5 L 1321.95 1706.35 C 1316.7 1706.35 1312.7 1708.5 1311.7 1714.5 L 1309.5 1727.6 L 1311.7 1740.5 C 1312.7 1746.5 1316.7 1748.7 1321.95 1748.7 L 1321.95 1742.5" fill="none" stroke="#111" stroke-width="3" stroke-linejoin="miter" stroke-miterlimit="3"/>
<path d="M 1321.95 1712.5 L 1321.95 1706.35 C 1316.7 1706.35 1312.7 1708.5 1311.7 1714.5 L 1309.5 1727.6 L 1311.7 1740.5 C 1312.7 1746.5 1316.7 1748.7 1321.95 1748.7 L 1321.95 1742.5" fill="none" stroke="#fff" stroke-width="1.45" stroke-linejoin="miter" stroke-miterlimit="3"/>
<path d="M 1344.45 1726 L 1344.45 1706.3 C 1350.7 1706.5 1353.7 1709.5 1354.95 1714.5 L 1356.95 1726 Z" fill="none" stroke="#111" stroke-width="3" stroke-linejoin="miter" stroke-miterlimit="3"/>
<path d="M 1344.45 1726 L 1344.45 1706.3 C 1350.7 1706.5 1353.7 1709.5 1354.95 1714.5 L 1356.95 1726 Z" fill="none" stroke="#fff" stroke-width="1.45" stroke-linejoin="miter" stroke-miterlimit="3"/>
<path d="M 1344.45 1729.25 L 1344.45 1748.75 C 1350.7 1748.5 1353.7 1745.5 1354.95 1740.5 L 1356.95 1729.25 Z" fill="none" stroke="#111" stroke-width="3" stroke-linejoin="miter" stroke-miterlimit="3"/>
<path d="M 1344.45 1729.25 L 1344.45 1748.75 C 1350.7 1748.5 1353.7 1745.5 1354.95 1740.5 L 1356.95 1729.25 Z" fill="none" stroke="#fff" stroke-width="1.45" stroke-linejoin="miter" stroke-miterlimit="3"/>
<path d="M 1309.6 1727.65 L 1357.95 1727.65" fill="none" stroke="#111" stroke-width="3" stroke-linejoin="miter" stroke-miterlimit="3"/>
<path d="M 1309.6 1727.65 L 1357.95 1727.65" fill="none" stroke="#fff" stroke-width="1.45" stroke-linejoin="miter" stroke-miterlimit="3"/>
<line x1="1146.9" y1="1705.3" x2="1172.7" y2="1678.8" stroke="#333" stroke-width="0.9"/>
<line x1="1146.9" y1="1750" x2="1172.7" y2="1776.6" stroke="#333" stroke-width="0.9"/>
<path d="M1111.4,1663.9 Q1150,1650 1177.7,1708" fill="none" stroke="#333" stroke-width="0.9"/>
<path d="M1111.4,1791 Q1150,1805 1177.7,1747" fill="none" stroke="#333" stroke-width="0.9"/>
<line x1="1125" y1="1661" x2="1112" y2="1663.9" stroke="#222" stroke-width="0.8"/>
<polygon points="1112,1663.9 1116.49,1661.05 1117.27,1664.57" fill="#222"/>
<line x1="1172" y1="1695" x2="1177.7" y2="1708" stroke="#222" stroke-width="0.8"/>
<polygon points="1177.7,1708 1174.04,1704.14 1177.34,1702.7" fill="#222"/>
<line x1="1125" y1="1794" x2="1112" y2="1791" stroke="#222" stroke-width="0.8"/>
<polygon points="1112,1791 1117.28,1790.37 1116.47,1793.88" fill="#222"/>
<line x1="1172" y1="1760" x2="1177.7" y2="1747" stroke="#222" stroke-width="0.8"/>
<polygon points="1177.7,1747 1177.34,1752.3 1174.04,1750.86" fill="#222"/>
<path d="M1177.7,1700 Q1182,1727 1177.7,1755" fill="none" stroke="#333" stroke-width="0.9"/>
<text x="1150" y="1672" font-family="'Liberation Sans', sans-serif" font-size="9.3" font-weight="normal" text-anchor="middle" fill="#333" transform="rotate(20 1150 1672)">45.00°</text>
<text x="1150" y="1788" font-family="'Liberation Sans', sans-serif" font-size="9.3" font-weight="normal" text-anchor="middle" fill="#333" transform="rotate(-20 1150 1788)">45.00°</text>
<text x="1184" y="1728" font-family="'Liberation Sans', sans-serif" font-size="9.3" font-weight="normal" text-anchor="middle" fill="#333" transform="rotate(90 1184 1728)">90.00°</text>
<path d="M1126.3,1566 Q1132,1563 1137.9,1564.4 M1146.9,1566 C1160,1575 1168,1590 1180,1589 C1195,1598 1205,1597 1222,1593 C1240,1590 1252,1598 1262,1601 C1275,1605 1282,1610 1288.8,1622 C1295,1640 1290,1665 1288,1690 C1286,1720 1292,1760 1288,1785 C1285,1800 1280,1820 1268.8,1832 C1255,1845 1240,1853 1222,1858 C1210,1860 1200,1856 1190,1857 C1170,1860 1160,1870 1146.9,1887 M1137.9,1888 Q1132,1890 1126.3,1888" fill="none" stroke="#222" stroke-width="0.9" stroke-dasharray="9,6"/>
<text x="1192.6" y="1652.9" font-family="'Liberation Serif', serif" font-size="14" font-weight="bold" text-anchor="start" fill="#000" textLength="29.2" lengthAdjust="spacingAndGlyphs">TILE</text>
<text x="1195.3" y="1808.1" font-family="'Liberation Serif', serif" font-size="14" font-weight="bold" text-anchor="start" fill="#000" textLength="28.8" lengthAdjust="spacingAndGlyphs">TILE</text>
<text x="1187.7" y="1536.9" font-family="'Liberation Sans', sans-serif" font-size="9.3" font-weight="normal" text-anchor="start" fill="#222" textLength="52" lengthAdjust="spacingAndGlyphs">ASSEMBLY 2</text>
<line x1="1186" y1="1532.9" x2="1177.7" y2="1532.9" stroke="#222" stroke-width="0.8"/>
<line x1="1177.7" y1="1532.9" x2="1146.9" y2="1542.8" stroke="#222" stroke-width="0.8"/>
<polygon points="1146.9,1542.8 1151.11,1539.56 1152.21,1542.98" fill="#222"/>
<text x="1156.2" y="1585.9" font-family="'Liberation Sans', sans-serif" font-size="9.3" font-weight="normal" text-anchor="start" fill="#222" textLength="52" lengthAdjust="spacingAndGlyphs">ASSEMBLY 2</text>
<line x1="1154.5" y1="1582" x2="1148.9" y2="1582" stroke="#222" stroke-width="0.8"/>
<line x1="1148.9" y1="1582" x2="1134.6" y2="1595.9" stroke="#222" stroke-width="0.8"/>
<polygon points="1134.6,1595.9 1136.93,1591.12 1139.44,1593.71" fill="#222"/>
<text x="1341.2" y="1696" font-family="'Liberation Sans', sans-serif" font-size="9.3" font-weight="normal" text-anchor="start" fill="#222" textLength="52.4" lengthAdjust="spacingAndGlyphs">ASSEMBLY 3</text>
<line x1="1338.5" y1="1692.7" x2="1331.2" y2="1692.7" stroke="#222" stroke-width="0.8"/>
<line x1="1331.2" y1="1692.7" x2="1322" y2="1712" stroke="#222" stroke-width="0.8"/>
<polygon points="1322,1712 1322.53,1706.71 1325.78,1708.26" fill="#222"/>
<text x="1249.7" y="1774.3" font-family="'Liberation Sans', sans-serif" font-size="9.3" font-weight="normal" text-anchor="start" fill="#222" textLength="52.4" lengthAdjust="spacingAndGlyphs">ASSEMBLY 3</text>
<line x1="1240.7" y1="1771" x2="1243" y2="1771" stroke="#222" stroke-width="0.8"/>
<line x1="1243" y1="1771" x2="1275.5" y2="1738.5" stroke="#222" stroke-width="0.8"/>
<polygon points="1275.5,1738.5 1273.24,1743.31 1270.69,1740.76" fill="#222"/>
<text x="1084.9" y="1945.7" font-family="'Liberation Serif', serif" font-size="56" font-weight="bold" text-anchor="start" fill="#000" stroke="#000" stroke-width="1.3" stroke-linejoin="round" textLength="36" lengthAdjust="spacingAndGlyphs">C</text>
<text x="1129.6" y="1931.4" font-family="'Liberation Serif', serif" font-size="19" font-weight="bold" text-anchor="start" fill="#000" stroke="#000" stroke-width="0.45" stroke-linejoin="round" textLength="179.1" lengthAdjust="spacingAndGlyphs">ASSEMBLY 2 AND 3</text>
<line x1="1125" y1="1938.4" x2="1326.9" y2="1938.4" stroke="#333" stroke-width="1.2"/>
<line x1="1125" y1="1944" x2="1326.9" y2="1944" stroke="#666" stroke-width="1.2"/>
<text x="1249" y="1959" font-family="'Liberation Serif', serif" font-size="12.5" font-weight="bold" text-anchor="start" fill="#000" stroke="#000" stroke-width="0.25" stroke-linejoin="round" textLength="59.7" lengthAdjust="spacingAndGlyphs">SCALE 1:2</text>
<line x1="1600.7" y1="1579.4" x2="1600.7" y2="1897.8" stroke="#111" stroke-width="1.8"/>
<line x1="1438.2" y1="1740.2" x2="1764.9" y2="1740.2" stroke="#111" stroke-width="1.8"/>
<line x1="1579.2" y1="1655" x2="1579.2" y2="1717" stroke="#111" stroke-width="1.1"/>
<line x1="1622.9" y1="1655" x2="1622.9" y2="1717" stroke="#111" stroke-width="1.1"/>
<line x1="1579.2" y1="1761.8" x2="1579.2" y2="1821.5" stroke="#111" stroke-width="1.1"/>
<line x1="1622.9" y1="1761.8" x2="1622.9" y2="1821.5" stroke="#111" stroke-width="1.1"/>
<line x1="1516.1" y1="1717" x2="1579.2" y2="1717" stroke="#111" stroke-width="1.1"/>
<line x1="1622.9" y1="1717" x2="1686" y2="1717" stroke="#111" stroke-width="1.1"/>
<line x1="1516.1" y1="1761.8" x2="1579.2" y2="1761.8" stroke="#111" stroke-width="1.1"/>
<line x1="1622.9" y1="1761.8" x2="1686" y2="1761.8" stroke="#111" stroke-width="1.1"/>
<line x1="1600.7" y1="1740.2" x2="1579.2" y2="1718.5" stroke="#111" stroke-width="1.1"/>
<line x1="1600.7" y1="1740.2" x2="1622.9" y2="1718.5" stroke="#111" stroke-width="1.1"/>
<line x1="1600.7" y1="1740.2" x2="1576" y2="1764.8" stroke="#111" stroke-width="1.1"/>
<line x1="1600.7" y1="1740.2" x2="1625.4" y2="1764.8" stroke="#111" stroke-width="1.1"/>
<path d="M 1615.8 1604.5 L 1621.95 1604.5 C 1621.95 1599.25 1619.8 1595.25 1613.8 1594.25 L 1600.7 1592.05 L 1587.8 1594.25 C 1581.8 1595.25 1579.6 1599.25 1579.6 1604.5 L 1585.8 1604.5" fill="none" stroke="#111" stroke-width="3" stroke-linejoin="miter" stroke-miterlimit="3"/>
<path d="M 1615.8 1604.5 L 1621.95 1604.5 C 1621.95 1599.25 1619.8 1595.25 1613.8 1594.25 L 1600.7 1592.05 L 1587.8 1594.25 C 1581.8 1595.25 1579.6 1599.25 1579.6 1604.5 L 1585.8 1604.5" fill="none" stroke="#fff" stroke-width="1.45" stroke-linejoin="miter" stroke-miterlimit="3"/>
<path d="M 1602.3 1627 L 1622 1627 C 1621.8 1633.25 1618.8 1636.25 1613.8 1637.5 L 1602.3 1639.5 Z" fill="none" stroke="#111" stroke-width="3" stroke-linejoin="miter" stroke-miterlimit="3"/>
<path d="M 1602.3 1627 L 1622 1627 C 1621.8 1633.25 1618.8 1636.25 1613.8 1637.5 L 1602.3 1639.5 Z" fill="none" stroke="#fff" stroke-width="1.45" stroke-linejoin="miter" stroke-miterlimit="3"/>
<path d="M 1599.05 1627 L 1579.55 1627 C 1579.8 1633.25 1582.8 1636.25 1587.8 1637.5 L 1599.05 1639.5 Z" fill="none" stroke="#111" stroke-width="3" stroke-linejoin="miter" stroke-miterlimit="3"/>
<path d="M 1599.05 1627 L 1579.55 1627 C 1579.8 1633.25 1582.8 1636.25 1587.8 1637.5 L 1599.05 1639.5 Z" fill="none" stroke="#fff" stroke-width="1.45" stroke-linejoin="miter" stroke-miterlimit="3"/>
<path d="M 1600.65 1592.15 L 1600.65 1640.5" fill="none" stroke="#111" stroke-width="3" stroke-linejoin="miter" stroke-miterlimit="3"/>
<path d="M 1600.65 1592.15 L 1600.65 1640.5" fill="none" stroke="#fff" stroke-width="1.45" stroke-linejoin="miter" stroke-miterlimit="3"/>
<path d="M 1585.6 1874.3 L 1579.45 1874.3 C 1579.45 1879.55 1581.6 1883.55 1587.6 1884.55 L 1600.7 1886.75 L 1613.6 1884.55 C 1619.6 1883.55 1621.8 1879.55 1621.8 1874.3 L 1615.6 1874.3" fill="none" stroke="#111" stroke-width="3" stroke-linejoin="miter" stroke-miterlimit="3"/>
<path d="M 1585.6 1874.3 L 1579.45 1874.3 C 1579.45 1879.55 1581.6 1883.55 1587.6 1884.55 L 1600.7 1886.75 L 1613.6 1884.55 C 1619.6 1883.55 1621.8 1879.55 1621.8 1874.3 L 1615.6 1874.3" fill="none" stroke="#fff" stroke-width="1.45" stroke-linejoin="miter" stroke-miterlimit="3"/>
<path d="M 1599.1 1851.8 L 1579.4 1851.8 C 1579.6 1845.55 1582.6 1842.55 1587.6 1841.3 L 1599.1 1839.3 Z" fill="none" stroke="#111" stroke-width="3" stroke-linejoin="miter" stroke-miterlimit="3"/>
<path d="M 1599.1 1851.8 L 1579.4 1851.8 C 1579.6 1845.55 1582.6 1842.55 1587.6 1841.3 L 1599.1 1839.3 Z" fill="none" stroke="#fff" stroke-width="1.45" stroke-linejoin="miter" stroke-miterlimit="3"/>
<path d="M 1602.35 1851.8 L 1621.85 1851.8 C 1621.6 1845.55 1618.6 1842.55 1613.6 1841.3 L 1602.35 1839.3 Z" fill="none" stroke="#111" stroke-width="3" stroke-linejoin="miter" stroke-miterlimit="3"/>
<path d="M 1602.35 1851.8 L 1621.85 1851.8 C 1621.6 1845.55 1618.6 1842.55 1613.6 1841.3 L 1602.35 1839.3 Z" fill="none" stroke="#fff" stroke-width="1.45" stroke-linejoin="miter" stroke-miterlimit="3"/>
<path d="M 1600.75 1886.65 L 1600.75 1838.3" fill="none" stroke="#111" stroke-width="3" stroke-linejoin="miter" stroke-miterlimit="3"/>
<path d="M 1600.75 1886.65 L 1600.75 1838.3" fill="none" stroke="#fff" stroke-width="1.45" stroke-linejoin="miter" stroke-miterlimit="3"/>
<path d="M 1466.6 1725.1 L 1466.6 1718.95 C 1461.35 1718.95 1457.35 1721.1 1456.35 1727.1 L 1454.15 1740.2 L 1456.35 1753.1 C 1457.35 1759.1 1461.35 1761.3 1466.6 1761.3 L 1466.6 1755.1" fill="none" stroke="#111" stroke-width="3" stroke-linejoin="miter" stroke-miterlimit="3"/>
<path d="M 1466.6 1725.1 L 1466.6 1718.95 C 1461.35 1718.95 1457.35 1721.1 1456.35 1727.1 L 1454.15 1740.2 L 1456.35 1753.1 C 1457.35 1759.1 1461.35 1761.3 1466.6 1761.3 L 1466.6 1755.1" fill="none" stroke="#fff" stroke-width="1.45" stroke-linejoin="miter" stroke-miterlimit="3"/>
<path d="M 1489.1 1738.6 L 1489.1 1718.9 C 1495.35 1719.1 1498.35 1722.1 1499.6 1727.1 L 1501.6 1738.6 Z" fill="none" stroke="#111" stroke-width="3" stroke-linejoin="miter" stroke-miterlimit="3"/>
<path d="M 1489.1 1738.6 L 1489.1 1718.9 C 1495.35 1719.1 1498.35 1722.1 1499.6 1727.1 L 1501.6 1738.6 Z" fill="none" stroke="#fff" stroke-width="1.45" stroke-linejoin="miter" stroke-miterlimit="3"/>
<path d="M 1489.1 1741.85 L 1489.1 1761.35 C 1495.35 1761.1 1498.35 1758.1 1499.6 1753.1 L 1501.6 1741.85 Z" fill="none" stroke="#111" stroke-width="3" stroke-linejoin="miter" stroke-miterlimit="3"/>
<path d="M 1489.1 1741.85 L 1489.1 1761.35 C 1495.35 1761.1 1498.35 1758.1 1499.6 1753.1 L 1501.6 1741.85 Z" fill="none" stroke="#fff" stroke-width="1.45" stroke-linejoin="miter" stroke-miterlimit="3"/>
<path d="M 1454.25 1740.25 L 1502.6 1740.25" fill="none" stroke="#111" stroke-width="3" stroke-linejoin="miter" stroke-miterlimit="3"/>
<path d="M 1454.25 1740.25 L 1502.6 1740.25" fill="none" stroke="#fff" stroke-width="1.45" stroke-linejoin="miter" stroke-miterlimit="3"/>
<path d="M 1735.5 1755.3 L 1735.5 1761.45 C 1740.75 1761.45 1744.75 1759.3 1745.75 1753.3 L 1747.95 1740.2 L 1745.75 1727.3 C 1744.75 1721.3 1740.75 1719.1 1735.5 1719.1 L 1735.5 1725.3" fill="none" stroke="#111" stroke-width="3" stroke-linejoin="miter" stroke-miterlimit="3"/>
<path d="M 1735.5 1755.3 L 1735.5 1761.45 C 1740.75 1761.45 1744.75 1759.3 1745.75 1753.3 L 1747.95 1740.2 L 1745.75 1727.3 C 1744.75 1721.3 1740.75 1719.1 1735.5 1719.1 L 1735.5 1725.3" fill="none" stroke="#fff" stroke-width="1.45" stroke-linejoin="miter" stroke-miterlimit="3"/>
<path d="M 1713 1741.8 L 1713 1761.5 C 1706.75 1761.3 1703.75 1758.3 1702.5 1753.3 L 1700.5 1741.8 Z" fill="none" stroke="#111" stroke-width="3" stroke-linejoin="miter" stroke-miterlimit="3"/>
<path d="M 1713 1741.8 L 1713 1761.5 C 1706.75 1761.3 1703.75 1758.3 1702.5 1753.3 L 1700.5 1741.8 Z" fill="none" stroke="#fff" stroke-width="1.45" stroke-linejoin="miter" stroke-miterlimit="3"/>
<path d="M 1713 1738.55 L 1713 1719.05 C 1706.75 1719.3 1703.75 1722.3 1702.5 1727.3 L 1700.5 1738.55 Z" fill="none" stroke="#111" stroke-width="3" stroke-linejoin="miter" stroke-miterlimit="3"/>
<path d="M 1713 1738.55 L 1713 1719.05 C 1706.75 1719.3 1703.75 1722.3 1702.5 1727.3 L 1700.5 1738.55 Z" fill="none" stroke="#fff" stroke-width="1.45" stroke-linejoin="miter" stroke-miterlimit="3"/>
<path d="M 1747.85 1740.15 L 1699.5 1740.15" fill="none" stroke="#111" stroke-width="3" stroke-linejoin="miter" stroke-miterlimit="3"/>
<path d="M 1747.85 1740.15 L 1699.5 1740.15" fill="none" stroke="#fff" stroke-width="1.45" stroke-linejoin="miter" stroke-miterlimit="3"/>
<path d="M1547.86,1705.89 A63,63 0 0 1 1609.47,1677.81" fill="none" stroke="#333" stroke-width="0.9"/>
<path d="M1588.33,1686.61 A55,55 0 0 1 1647.34,1711.05" fill="none" stroke="#333" stroke-width="0.9"/>
<line x1="1606" y1="1677.6" x2="1601.5" y2="1677.2" stroke="#222" stroke-width="0.8"/>
<polygon points="1601.5,1677.2 1606.64,1675.85 1606.32,1679.44" fill="#222"/>
<line x1="1595" y1="1685.5" x2="1600" y2="1685.2" stroke="#222" stroke-width="0.8"/>
<polygon points="1600,1685.2 1595.12,1687.3 1594.9,1683.7" fill="#222"/>
<line x1="1556" y1="1697" x2="1561" y2="1693" stroke="#222" stroke-width="0.8"/>
<polygon points="1561,1693 1558.22,1697.53 1555.97,1694.72" fill="#222"/>
<line x1="1645" y1="1708" x2="1642" y2="1704" stroke="#222" stroke-width="0.8"/>
<polygon points="1642,1704 1646.44,1706.92 1643.56,1709.08" fill="#222"/>
<line x1="1576.3" y1="1714" x2="1553" y2="1691.2" stroke="#333" stroke-width="0.9"/>
<line x1="1625" y1="1714" x2="1648.3" y2="1691.2" stroke="#333" stroke-width="0.9"/>
<text x="1577" y="1686" font-family="'Liberation Sans', sans-serif" font-size="9.3" font-weight="normal" text-anchor="middle" fill="#333" transform="rotate(-28 1577 1686)">45.00°</text>
<text x="1624" y="1690" font-family="'Liberation Sans', sans-serif" font-size="9.3" font-weight="normal" text-anchor="middle" fill="#333" transform="rotate(30 1624 1690)">45.00°</text>
<path d="M1569.75,1720.86 A36.5,36.5 0 0 1 1578.23,1711.44" fill="none" stroke="#333" stroke-width="0.9"/>
<path d="M1578.23,1768.96 A36.5,36.5 0 0 1 1569.75,1759.54" fill="none" stroke="#333" stroke-width="0.9"/>
<path d="M1623.17,1711.44 A36.5,36.5 0 0 1 1631.65,1720.86" fill="none" stroke="#333" stroke-width="0.9"/>
<path d="M1631.65,1759.54 A36.5,36.5 0 0 1 1623.17,1768.96" fill="none" stroke="#333" stroke-width="0.9"/>
<path d="M1620.2,1773.97 A39,39 0 0 1 1608.81,1778.35" fill="none" stroke="#333" stroke-width="0.9"/>
<path d="M1592.59,1778.35 A39,39 0 0 1 1581.2,1773.97" fill="none" stroke="#333" stroke-width="0.9"/>
<text x="1567.5" y="1740" font-family="'Liberation Sans', sans-serif" font-size="9.3" font-weight="normal" text-anchor="middle" fill="#333" transform="rotate(-90 1567.5 1740)">90.00°</text>
<text x="1640.5" y="1740" font-family="'Liberation Sans', sans-serif" font-size="9.3" font-weight="normal" text-anchor="middle" fill="#333" transform="rotate(-90 1640.5 1740)">90.00°</text>
<text x="1600.5" y="1784" font-family="'Liberation Sans', sans-serif" font-size="9.3" font-weight="normal" text-anchor="middle" fill="#333" textLength="26" lengthAdjust="spacingAndGlyphs">90.00°</text>
<path d="M1600.7,1581.5 C1600,1580 1597,1578 1592,1578 C1580,1579 1570,1590 1565,1600 C1558,1609 1550,1611 1519.5,1609.9 C1500,1608 1485,1604 1476,1605 C1455,1609 1440,1620 1436,1636 C1432,1650 1434,1665 1438.2,1682 C1442,1700 1442,1715 1438.2,1740 C1434,1765 1440,1780 1440,1798 C1438,1815 1432,1825 1436,1845 C1440,1860 1455,1870 1476,1871 C1490,1872 1500,1868 1519.5,1870 C1545,1872 1555,1875 1565,1882 C1572,1893 1580,1901 1592,1902 C1597,1902 1600,1900 1600.7,1898.5 C1601.5,1900 1604,1902 1609,1902 C1621,1901 1629,1893 1636,1882 C1646,1875 1656,1872 1681.9,1870 C1701,1868 1711,1872 1725,1871 C1746,1870 1761,1860 1765,1845 C1769,1825 1763,1815 1761,1798 C1761,1780 1767,1765 1763,1740 C1759,1715 1759,1700 1763,1682 C1767,1665 1769,1650 1765,1636 C1761,1620 1746,1609 1725,1605 C1716,1604 1701,1608 1681.9,1609.9 C1651,1611 1643,1609 1636,1600 C1631,1590 1621,1579 1609,1578 C1604,1578 1601.5,1580 1600.7,1581.5" fill="none" stroke="#222" stroke-width="0.9" stroke-dasharray="9,6"/>
<text x="1490.3" y="1639" font-family="'Liberation Serif', serif" font-size="14" font-weight="bold" text-anchor="start" fill="#000" textLength="28.4" lengthAdjust="spacingAndGlyphs">TILE</text>
<text x="1684.6" y="1639" font-family="'Liberation Serif', serif" font-size="14" font-weight="bold" text-anchor="start" fill="#000" textLength="28.4" lengthAdjust="spacingAndGlyphs">TILE</text>
<text x="1490.3" y="1839.7" font-family="'Liberation Serif', serif" font-size="14" font-weight="bold" text-anchor="start" fill="#000" textLength="28.4" lengthAdjust="spacingAndGlyphs">TILE</text>
<text x="1685.3" y="1839.7" font-family="'Liberation Serif', serif" font-size="14" font-weight="bold" text-anchor="start" fill="#000" textLength="28.4" lengthAdjust="spacingAndGlyphs">TILE</text>
<text x="1566.5" y="1562.8" font-family="'Liberation Sans', sans-serif" font-size="9.3" font-weight="normal" text-anchor="start" fill="#222" textLength="52.3" lengthAdjust="spacingAndGlyphs">ASSEMBLY 3</text>
<line x1="1564.2" y1="1559.5" x2="1557.6" y2="1559.5" stroke="#222" stroke-width="0.8"/>
<line x1="1557.6" y1="1559.5" x2="1580.8" y2="1595.9" stroke="#222" stroke-width="0.8"/>
<polygon points="1580.8,1595.9 1576.59,1592.65 1579.63,1590.72" fill="#222"/>
<text x="1453.1" y="1792.3" font-family="'Liberation Sans', sans-serif" font-size="9.3" font-weight="normal" text-anchor="start" fill="#222" textLength="52.3" lengthAdjust="spacingAndGlyphs">ASSEMBLY 3</text>
<line x1="1451.5" y1="1789" x2="1441.5" y2="1789" stroke="#222" stroke-width="0.8"/>
<line x1="1441.5" y1="1789" x2="1453.1" y2="1748.5" stroke="#222" stroke-width="0.8"/>
<polygon points="1453.1,1748.5 1453.45,1753.8 1449.99,1752.81" fill="#222"/>
<text x="1506.8" y="1947.5" font-family="'Liberation Serif', serif" font-size="56" font-weight="bold" text-anchor="start" fill="#000" stroke="#000" stroke-width="1.3" stroke-linejoin="round" textLength="41" lengthAdjust="spacingAndGlyphs">D</text>
<text x="1554.3" y="1932.6" font-family="'Liberation Serif', serif" font-size="19" font-weight="bold" text-anchor="start" fill="#000" stroke="#000" stroke-width="0.45" stroke-linejoin="round" textLength="145.9" lengthAdjust="spacingAndGlyphs">ASSEMBLY 3 X4</text>
<line x1="1554" y1="1939.2" x2="1707.8" y2="1939.2" stroke="#333" stroke-width="1.2"/>
<line x1="1554" y1="1944.9" x2="1707.8" y2="1944.9" stroke="#666" stroke-width="1.2"/>
<text x="1641.2" y="1959.1" font-family="'Liberation Serif', serif" font-size="12.5" font-weight="bold" text-anchor="start" fill="#000" stroke="#000" stroke-width="0.25" stroke-linejoin="round" textLength="60.7" lengthAdjust="spacingAndGlyphs">SCALE 1:2</text>
<line x1="1879.4" y1="1664.5" x2="2067.7" y2="1664.5" stroke="#111" stroke-width="1.1"/>
<line x1="1886.7" y1="1672.7" x2="2067.7" y2="1672.7" stroke="#111" stroke-width="1.1"/>
<line x1="1905.3" y1="1690.3" x2="2085" y2="1690.3" stroke="#111" stroke-width="1.1"/>
<line x1="1905.3" y1="1692.6" x2="2067" y2="1692.6" stroke="#555" stroke-width="0.9" stroke-dasharray="9,6"/>
<line x1="1839.7" y1="1713.5" x2="2099.9" y2="1713.5" stroke="#111" stroke-width="1.1"/>
<line x1="1879.4" y1="1664.5" x2="1879.4" y2="1852.7" stroke="#111" stroke-width="1.1"/>
<line x1="1886.7" y1="1672.7" x2="1886.7" y2="1852.7" stroke="#111" stroke-width="1.1"/>
<line x1="1905.3" y1="1690.3" x2="1905.3" y2="1868.3" stroke="#111" stroke-width="1.1"/>
<line x1="1906.9" y1="1692" x2="1906.9" y2="1868.3" stroke="#555" stroke-width="0.9" stroke-dasharray="9,6"/>
<line x1="1927.5" y1="1713.5" x2="1927.5" y2="1884.2" stroke="#111" stroke-width="1.1"/>
<line x1="1879.4" y1="1664.5" x2="1927.5" y2="1713.5" stroke="#111" stroke-width="1.1"/>
<path d="M 2101 1692.1 L 2103.75 1705.6 Q 2106.25 1712.85 2113.25 1712.85 L 2113.25 1706.6" fill="none" stroke="#111" stroke-width="3" stroke-linejoin="miter" stroke-miterlimit="3"/>
<path d="M 2101 1692.1 L 2103.75 1705.6 Q 2106.25 1712.85 2113.25 1712.85 L 2113.25 1706.6" fill="none" stroke="#fff" stroke-width="1.45" stroke-linejoin="miter" stroke-miterlimit="3"/>
<path d="M 2136.4 1692.1 L 2136.4 1712.85 Q 2145.25 1712.6 2148 1702.6 L 2149.25 1692.1" fill="none" stroke="#111" stroke-width="3" stroke-linejoin="miter" stroke-miterlimit="3"/>
<path d="M 2136.4 1692.1 L 2136.4 1712.85 Q 2145.25 1712.6 2148 1702.6 L 2149.25 1692.1" fill="none" stroke="#fff" stroke-width="1.45" stroke-linejoin="miter" stroke-miterlimit="3"/>
<path d="M 2100.25 1691.6 L 2149.75 1691.6" fill="none" stroke="#111" stroke-width="3" stroke-linejoin="miter" stroke-miterlimit="3"/>
<path d="M 2100.25 1691.6 L 2149.75 1691.6" fill="none" stroke="#fff" stroke-width="1.45" stroke-linejoin="miter" stroke-miterlimit="3"/>
<path d="M 2100.25 1690.35 L 2082.6 1672.1 L 2082.6 1665.5 L 2167.4 1665.5 L 2167.4 1672.1 L 2149.5 1690.35" fill="none" stroke="#111" stroke-width="3" stroke-linejoin="miter" stroke-miterlimit="3"/>
<path d="M 2100.25 1690.35 L 2082.6 1672.1 L 2082.6 1665.5 L 2167.4 1665.5 L 2167.4 1672.1 L 2149.5 1690.35" fill="none" stroke="#fff" stroke-width="1.45" stroke-linejoin="miter" stroke-miterlimit="3"/>
<path d="M 2125 1690.35 L 2125 1670.85" fill="none" stroke="#111" stroke-width="3" stroke-linejoin="miter" stroke-miterlimit="3"/>
<path d="M 2125 1690.35 L 2125 1670.85" fill="none" stroke="#fff" stroke-width="1.45" stroke-linejoin="miter" stroke-miterlimit="3"/>
<path d="M 2104.75 1666.6 L 2104.75 1670.6 L 2112.25 1670.6 L 2112.25 1668.85 L 2106.5 1668.85 L 2106.5 1666.6" fill="none" stroke="#111" stroke-width="0.7"/>
<path d="M 2145 1666.6 L 2145 1670.6 L 2137.75 1670.6 L 2137.75 1668.85 L 2143.25 1668.85 L 2143.25 1666.6" fill="none" stroke="#111" stroke-width="0.7"/>
<path d="M 2102.25 1690.1 L 2106.75 1690.1 L 2106.75 1684.1 L 2104.75 1684.1 L 2103.25 1687.6" fill="none" stroke="#111" stroke-width="0.7"/>
<path d="M 2147.25 1690.1 L 2143.25 1690.1 L 2143.25 1684.1 L 2145.25 1684.1 L 2146.75 1687.6" fill="none" stroke="#111" stroke-width="0.7"/>
<path d="M 1906.4 1885.4 L 1919.9 1888.15 Q 1927.15 1890.65 1927.15 1897.65 L 1920.9 1897.65" fill="none" stroke="#111" stroke-width="3" stroke-linejoin="miter" stroke-miterlimit="3"/>
<path d="M 1906.4 1885.4 L 1919.9 1888.15 Q 1927.15 1890.65 1927.15 1897.65 L 1920.9 1897.65" fill="none" stroke="#fff" stroke-width="1.45" stroke-linejoin="miter" stroke-miterlimit="3"/>
<path d="M 1906.4 1920.8 L 1927.15 1920.8 Q 1926.9 1929.65 1916.9 1932.4 L 1906.4 1933.65" fill="none" stroke="#111" stroke-width="3" stroke-linejoin="miter" stroke-miterlimit="3"/>
<path d="M 1906.4 1920.8 L 1927.15 1920.8 Q 1926.9 1929.65 1916.9 1932.4 L 1906.4 1933.65" fill="none" stroke="#fff" stroke-width="1.45" stroke-linejoin="miter" stroke-miterlimit="3"/>
<path d="M 1905.9 1884.65 L 1905.9 1934.15" fill="none" stroke="#111" stroke-width="3" stroke-linejoin="miter" stroke-miterlimit="3"/>
<path d="M 1905.9 1884.65 L 1905.9 1934.15" fill="none" stroke="#fff" stroke-width="1.45" stroke-linejoin="miter" stroke-miterlimit="3"/>
<path d="M 1904.65 1884.65 L 1886.4 1867 L 1879.8 1867 L 1879.8 1951.8 L 1886.4 1951.8 L 1904.65 1933.9" fill="none" stroke="#111" stroke-width="3" stroke-linejoin="miter" stroke-miterlimit="3"/>
<path d="M 1904.65 1884.65 L 1886.4 1867 L 1879.8 1867 L 1879.8 1951.8 L 1886.4 1951.8 L 1904.65 1933.9" fill="none" stroke="#fff" stroke-width="1.45" stroke-linejoin="miter" stroke-miterlimit="3"/>
<path d="M 1904.65 1909.4 L 1885.15 1909.4" fill="none" stroke="#111" stroke-width="3" stroke-linejoin="miter" stroke-miterlimit="3"/>
<path d="M 1904.65 1909.4 L 1885.15 1909.4" fill="none" stroke="#fff" stroke-width="1.45" stroke-linejoin="miter" stroke-miterlimit="3"/>
<path d="M 1880.9 1889.15 L 1884.9 1889.15 L 1884.9 1896.65 L 1883.15 1896.65 L 1883.15 1890.9 L 1880.9 1890.9" fill="none" stroke="#111" stroke-width="0.7"/>
<path d="M 1880.9 1929.4 L 1884.9 1929.4 L 1884.9 1922.15 L 1883.15 1922.15 L 1883.15 1927.65 L 1880.9 1927.65" fill="none" stroke="#111" stroke-width="0.7"/>
<path d="M 1904.4 1886.65 L 1904.4 1891.15 L 1898.4 1891.15 L 1898.4 1889.15 L 1901.9 1887.65" fill="none" stroke="#111" stroke-width="0.7"/>
<path d="M 1904.4 1931.65 L 1904.4 1927.65 L 1898.4 1927.65 L 1898.4 1929.65 L 1901.9 1931.15" fill="none" stroke="#111" stroke-width="0.7"/>
<line x1="1879.4" y1="1664.5" x2="1864.5" y2="1650.5" stroke="#333" stroke-width="0.9"/>
<path d="M1844.6,1713.5 Q1846,1672 1867.8,1655.5" fill="none" stroke="#333" stroke-width="0.9"/>
<line x1="1846" y1="1690" x2="1844.6" y2="1713.5" stroke="#222" stroke-width="0.8"/>
<polygon points="1844.6,1713.5 1843.1,1708.4 1846.69,1708.62" fill="#222"/>
<line x1="1858" y1="1662" x2="1867.8" y2="1655.5" stroke="#222" stroke-width="0.8"/>
<polygon points="1867.8,1655.5 1864.63,1659.76 1862.64,1656.76" fill="#222"/>
<rect x="1842" y="1664" width="16" height="36" fill="#fff"/>
<text x="1853" y="1682" font-family="'Liberation Sans', sans-serif" font-size="9.3" font-weight="normal" text-anchor="middle" fill="#333" transform="rotate(-70 1853 1682)">45.00°</text>
<path d="M1905.3,1690.3 Q1915,1680 1924,1678 M1956,1684 Q1962,1695 1961.6,1713" fill="none" stroke="#333" stroke-width="0.9"/>
<line x1="1912" y1="1683" x2="1905.3" y2="1690.3" stroke="#222" stroke-width="0.8"/>
<polygon points="1905.3,1690.3 1907.35,1685.4 1910.01,1687.83" fill="#222"/>
<line x1="1961" y1="1700" x2="1961.6" y2="1713" stroke="#222" stroke-width="0.8"/>
<polygon points="1961.6,1713 1959.57,1708.09 1963.17,1707.92" fill="#222"/>
<text x="1924.2" y="1682" font-family="'Liberation Sans', sans-serif" font-size="9.3" font-weight="normal" text-anchor="start" fill="#333" textLength="31.5" lengthAdjust="spacingAndGlyphs" transform="rotate(15 1924.2 1682)">135.00°</text>
<path d="M2066.7,1693 L2068,1713 M2066.5,1722 C2070,1740 2072,1760 2070,1780 C2068,1800 2062,1810 2046,1818 C2030,1825 2015,1825 2000,1824 C1985,1822 1975,1820 1955,1825 C1940,1830 1932,1840 1925.5,1852 C1920,1857 1912,1854 1906,1853" fill="none" stroke="#222" stroke-width="0.9" stroke-dasharray="9,6"/>
<text x="1995.4" y="1783.1" font-family="'Liberation Serif', serif" font-size="14" font-weight="bold" text-anchor="start" fill="#000" textLength="29.2" lengthAdjust="spacingAndGlyphs">TILE</text>
<text x="2009.7" y="1655.5" font-family="'Liberation Sans', sans-serif" font-size="9.3" font-weight="normal" text-anchor="start" fill="#222" textLength="54.5" lengthAdjust="spacingAndGlyphs">ASSEMBLY  2</text>
<line x1="2007" y1="1651.5" x2="2001.4" y2="1651.5" stroke="#222" stroke-width="0.8"/>
<line x1="2001.4" y1="1651.5" x2="1988.8" y2="1667.1" stroke="#222" stroke-width="0.8"/>
<polygon points="1988.8,1667.1 1990.54,1662.08 1993.34,1664.34" fill="#222"/>
<text x="1809.2" y="1806.3" font-family="'Liberation Sans', sans-serif" font-size="9.3" font-weight="normal" text-anchor="start" fill="#222" textLength="52" lengthAdjust="spacingAndGlyphs">ASSEMBLY 2</text>
<line x1="1864.5" y1="1803" x2="1869.5" y2="1803" stroke="#222" stroke-width="0.8"/>
<line x1="1869.5" y1="1803" x2="1882.8" y2="1817.9" stroke="#222" stroke-width="0.8"/>
<polygon points="1882.8,1817.9 1878.13,1815.37 1880.81,1812.97" fill="#222"/>
<text x="1937.4" y="1971" font-family="'Liberation Serif', serif" font-size="56" font-weight="bold" text-anchor="start" fill="#000" stroke="#000" stroke-width="1.3" stroke-linejoin="round" textLength="36" lengthAdjust="spacingAndGlyphs">E</text>
<text x="1984.8" y="1957.1" font-family="'Liberation Serif', serif" font-size="19" font-weight="bold" text-anchor="start" fill="#000" stroke="#000" stroke-width="0.45" stroke-linejoin="round" textLength="159.8" lengthAdjust="spacingAndGlyphs">ASSEMBLY 2 (X2)</text>
<line x1="1976.2" y1="1963.8" x2="2150.6" y2="1963.8" stroke="#333" stroke-width="1.2"/>
<line x1="1976.2" y1="1969.4" x2="2150.6" y2="1969.4" stroke="#666" stroke-width="1.2"/>
<text x="2081" y="1984.3" font-family="'Liberation Serif', serif" font-size="12.5" font-weight="bold" text-anchor="start" fill="#000" stroke="#000" stroke-width="0.25" stroke-linejoin="round" textLength="61" lengthAdjust="spacingAndGlyphs">SCALE 1:2</text>
<path d="M 2459.35 1521.55 L 2452.9 1521.55 Q 2453.1 1514.55 2461.95 1511.95 L 2473.9 1509.8 L 2574.85 1490.9 L 2624 1490.9 L 2624 1575.3 L 2574.85 1575.3 L 2474.1 1556.55 L 2461.6 1554.3 Q 2453.1 1551.55 2452.9 1544.55 L 2473.1 1544.55" fill="none" stroke="#111" stroke-width="3" stroke-linejoin="miter" stroke-miterlimit="3"/>
<path d="M 2459.35 1521.55 L 2452.9 1521.55 Q 2453.1 1514.55 2461.95 1511.95 L 2473.9 1509.8 L 2574.85 1490.9 L 2624 1490.9 L 2624 1575.3 L 2574.85 1575.3 L 2474.1 1556.55 L 2461.6 1554.3 Q 2453.1 1551.55 2452.9 1544.55 L 2473.1 1544.55" fill="none" stroke="#fff" stroke-width="1.45" stroke-linejoin="miter" stroke-miterlimit="3"/>
<path d="M 2474.4 1509.8 L 2474.4 1556.55" fill="none" stroke="#111" stroke-width="3" stroke-linejoin="miter" stroke-miterlimit="3"/>
<path d="M 2474.4 1509.8 L 2474.4 1556.55" fill="none" stroke="#fff" stroke-width="1.45" stroke-linejoin="miter" stroke-miterlimit="3"/>
<path d="M 2588.1 1492 L 2591.5 1509.8 L 2585.1 1532.8 L 2579.6 1534.05" fill="none" stroke="#111" stroke-width="3" stroke-linejoin="miter" stroke-miterlimit="3"/>
<path d="M 2588.1 1492 L 2591.5 1509.8 L 2585.1 1532.8 L 2579.6 1534.05" fill="none" stroke="#fff" stroke-width="1.45" stroke-linejoin="miter" stroke-miterlimit="3"/>
<path d="M 2475.6 1551.3 L 2482.1 1552.55 L 2481.6 1558.05" fill="none" stroke="#111" stroke-width="0.7"/>
<path d="M 2475.6 1554.55 L 2480.1 1555.55 L 2479.6 1557.55" fill="none" stroke="#111" stroke-width="0.7"/>
<path d="M 2622.6 1512.55 L 2618.35 1512.55 L 2618.35 1519.55 L 2620.1 1519.55 L 2620.1 1514.55 L 2622.6 1514.55" fill="none" stroke="#111" stroke-width="0.7"/>
<path d="M 2622.6 1553.3 L 2618.35 1553.3 L 2618.35 1546.3 L 2620.1 1546.3 L 2620.1 1551.3 L 2622.6 1551.3" fill="none" stroke="#111" stroke-width="0.7"/>
<path d="M 2602.6 1574.05 L 2603.1 1569.55 L 2605.1 1569.05 L 2607.6 1572.05 L 2612.6 1572.05 L 2612.6 1574.05" fill="none" stroke="#111" stroke-width="0.7"/>
<path d="M 2257.45 1720.15 L 2257.45 1713.7 Q 2250.45 1713.9 2247.85 1722.75 L 2245.7 1734.7 L 2226.8 1835.65 L 2226.8 1884.8 L 2311.2 1884.8 L 2311.2 1835.65 L 2292.45 1734.9 L 2290.2 1722.4 Q 2287.45 1713.9 2280.45 1713.7 L 2280.45 1733.9" fill="none" stroke="#111" stroke-width="3" stroke-linejoin="miter" stroke-miterlimit="3"/>
<path d="M 2257.45 1720.15 L 2257.45 1713.7 Q 2250.45 1713.9 2247.85 1722.75 L 2245.7 1734.7 L 2226.8 1835.65 L 2226.8 1884.8 L 2311.2 1884.8 L 2311.2 1835.65 L 2292.45 1734.9 L 2290.2 1722.4 Q 2287.45 1713.9 2280.45 1713.7 L 2280.45 1733.9" fill="none" stroke="#fff" stroke-width="1.45" stroke-linejoin="miter" stroke-miterlimit="3"/>
<path d="M 2245.7 1735.2 L 2292.45 1735.2" fill="none" stroke="#111" stroke-width="3" stroke-linejoin="miter" stroke-miterlimit="3"/>
<path d="M 2245.7 1735.2 L 2292.45 1735.2" fill="none" stroke="#fff" stroke-width="1.45" stroke-linejoin="miter" stroke-miterlimit="3"/>
<path d="M 2227.9 1848.9 L 2245.7 1852.3 L 2268.7 1845.9 L 2269.95 1840.4" fill="none" stroke="#111" stroke-width="3" stroke-linejoin="miter" stroke-miterlimit="3"/>
<path d="M 2227.9 1848.9 L 2245.7 1852.3 L 2268.7 1845.9 L 2269.95 1840.4" fill="none" stroke="#fff" stroke-width="1.45" stroke-linejoin="miter" stroke-miterlimit="3"/>
<path d="M 2287.2 1736.4 L 2288.45 1742.9 L 2293.95 1742.4" fill="none" stroke="#111" stroke-width="0.7"/>
<path d="M 2290.45 1736.4 L 2291.45 1740.9 L 2293.45 1740.4" fill="none" stroke="#111" stroke-width="0.7"/>
<path d="M 2248.45 1883.4 L 2248.45 1879.15 L 2255.45 1879.15 L 2255.45 1880.9 L 2250.45 1880.9 L 2250.45 1883.4" fill="none" stroke="#111" stroke-width="0.7"/>
<path d="M 2289.2 1883.4 L 2289.2 1879.15 L 2282.2 1879.15 L 2282.2 1880.9 L 2287.2 1880.9 L 2287.2 1883.4" fill="none" stroke="#111" stroke-width="0.7"/>
<path d="M 2309.95 1863.4 L 2305.45 1863.9 L 2304.95 1865.9 L 2307.95 1868.4 L 2307.95 1873.4 L 2309.95 1873.4" fill="none" stroke="#111" stroke-width="0.7"/>
<line x1="2452.5" y1="1556.1" x2="2452.5" y2="1713.6" stroke="#111" stroke-width="1.1"/>
<line x1="2474.4" y1="1571" x2="2474.4" y2="1734.5" stroke="#111" stroke-width="1.1"/>
<line x1="2476" y1="1571" x2="2476" y2="1734.5" stroke="#555" stroke-width="0.9" stroke-dasharray="9,6"/>
<line x1="2575.2" y1="1587.6" x2="2575.2" y2="1835.3" stroke="#111" stroke-width="1.1"/>
<line x1="2611" y1="1587.6" x2="2611" y2="1871.7" stroke="#111" stroke-width="1.1"/>
<line x1="2625.2" y1="1587.6" x2="2625.2" y2="1886" stroke="#111" stroke-width="1.1"/>
<line x1="2294.3" y1="1713.6" x2="2452.5" y2="1713.6" stroke="#111" stroke-width="1.1"/>
<line x1="2308.6" y1="1734.5" x2="2474.4" y2="1734.5" stroke="#111" stroke-width="1.1"/>
<line x1="2315" y1="1732.5" x2="2474.4" y2="1732.5" stroke="#555" stroke-width="0.9" stroke-dasharray="9,6"/>
<line x1="2326.5" y1="1835.3" x2="2575.2" y2="1835.3" stroke="#111" stroke-width="1.1"/>
<line x1="2326.5" y1="1871.7" x2="2611" y2="1871.7" stroke="#111" stroke-width="1.1"/>
<line x1="2326.5" y1="1886" x2="2625.2" y2="1886" stroke="#111" stroke-width="1.1"/>
<polyline points="2452.5,1713.6 2474.4,1734.5 2625.2,1886" fill="none" stroke="#111" stroke-width="1.1"/>
<path d="M2624.3,1724.5 Q2500,1740 2463.4,1884.4" fill="none" stroke="#333" stroke-width="0.9"/>
<line x1="2600" y1="1726.5" x2="2625" y2="1724.5" stroke="#222" stroke-width="0.8"/>
<polygon points="2625,1724.5 2620.16,1726.69 2619.87,1723.1" fill="#222"/>
<line x1="2466" y1="1865" x2="2463.4" y2="1886" stroke="#222" stroke-width="0.8"/>
<polygon points="2463.4,1886 2462.23,1880.82 2465.8,1881.26" fill="#222"/>
<line x1="2520" y1="1762" x2="2510" y2="1771" stroke="#222" stroke-width="0.8"/>
<polygon points="2510,1771 2512.51,1766.32 2514.92,1768.99" fill="#222"/>
<line x1="2502" y1="1780" x2="2512" y2="1770" stroke="#222" stroke-width="0.8"/>
<polygon points="2512,1770 2509.74,1774.81 2507.19,1772.26" fill="#222"/>
<rect x="2536" y="1732" width="30" height="20" fill="#fff"/>
<text x="2551.3" y="1745" font-family="'Liberation Sans', sans-serif" font-size="9.3" font-weight="normal" text-anchor="middle" fill="#333" transform="rotate(-25 2551.3 1745)">45.00°</text>
<rect x="2467" y="1804" width="19" height="29.5" fill="#fff"/>
<text x="2478" y="1822" font-family="'Liberation Sans', sans-serif" font-size="9.3" font-weight="normal" text-anchor="middle" fill="#333" transform="rotate(-72 2478 1822)">45.00°</text>
<path d="M2312.6,1734.5 L2311,1705 C2310,1690 2306,1672 2307.6,1658 C2309,1640 2315,1625 2330,1615.8 C2345,1605 2360,1600 2374,1601 C2388,1603 2395,1606 2408,1603 C2425,1598 2435,1590 2440,1582 C2445,1576 2450,1574 2452,1574 M2461.8,1572.7 Q2470,1572 2473,1578" fill="none" stroke="#222" stroke-width="0.9" stroke-dasharray="9,6"/>
<text x="2369" y="1655.6" font-family="'Liberation Serif', serif" font-size="14" font-weight="bold" text-anchor="start" fill="#000" textLength="29.8" lengthAdjust="spacingAndGlyphs">TILE</text>
<text x="2204.8" y="1698" font-family="'Liberation Sans', sans-serif" font-size="9.3" font-weight="normal" text-anchor="start" fill="#222" textLength="51.5" lengthAdjust="spacingAndGlyphs">ASSEMBLY 1</text>
<line x1="2258.9" y1="1694.7" x2="2262.8" y2="1694.7" stroke="#222" stroke-width="0.8"/>
<line x1="2262.8" y1="1694.7" x2="2281.1" y2="1715.3" stroke="#222" stroke-width="0.8"/>
<polygon points="2281.1,1715.3 2276.43,1712.76 2279.13,1710.37" fill="#222"/>
<text x="2422" y="1561" font-family="'Liberation Sans', sans-serif" font-size="9.3" font-weight="normal" text-anchor="start" fill="#222" textLength="51.5" lengthAdjust="spacingAndGlyphs" transform="rotate(-90 2422 1561)">ASSEMBLY 1</text>
<line x1="2417" y1="1564.4" x2="2422" y2="1564.4" stroke="#222" stroke-width="0.8"/>
<line x1="2417" y1="1564.4" x2="2456.8" y2="1532.9" stroke="#222" stroke-width="0.8"/>
<polygon points="2456.8,1532.9 2454,1537.41 2451.76,1534.59" fill="#222"/>
<line x1="2417" y1="1564.4" x2="2458.5" y2="1609.2" stroke="#222" stroke-width="0.8"/>
<polygon points="2458.5,1609.2 2453.78,1606.76 2456.42,1604.31" fill="#222"/>
<text x="2335.1" y="1935.7" font-family="'Liberation Serif', serif" font-size="56" font-weight="bold" text-anchor="start" fill="#000" stroke="#000" stroke-width="1.3" stroke-linejoin="round" textLength="34" lengthAdjust="spacingAndGlyphs">F</text>
<text x="2368.3" y="1934.1" font-family="'Liberation Serif', serif" font-size="19" font-weight="bold" text-anchor="start" fill="#000" stroke="#000" stroke-width="0.45" stroke-linejoin="round" textLength="161.4" lengthAdjust="spacingAndGlyphs">ASSEMBLY 1 (X2)</text>
<line x1="2372.3" y1="1940.7" x2="2534.1" y2="1940.7" stroke="#333" stroke-width="1.2"/>
<line x1="2372.3" y1="1946.3" x2="2534.1" y2="1946.3" stroke="#666" stroke-width="1.2"/>
<text x="2466.1" y="1960.6" font-family="'Liberation Serif', serif" font-size="12.5" font-weight="bold" text-anchor="start" fill="#000" stroke="#000" stroke-width="0.25" stroke-linejoin="round" textLength="61" lengthAdjust="spacingAndGlyphs">SCALE 1:2</text>
</svg></body></html>
